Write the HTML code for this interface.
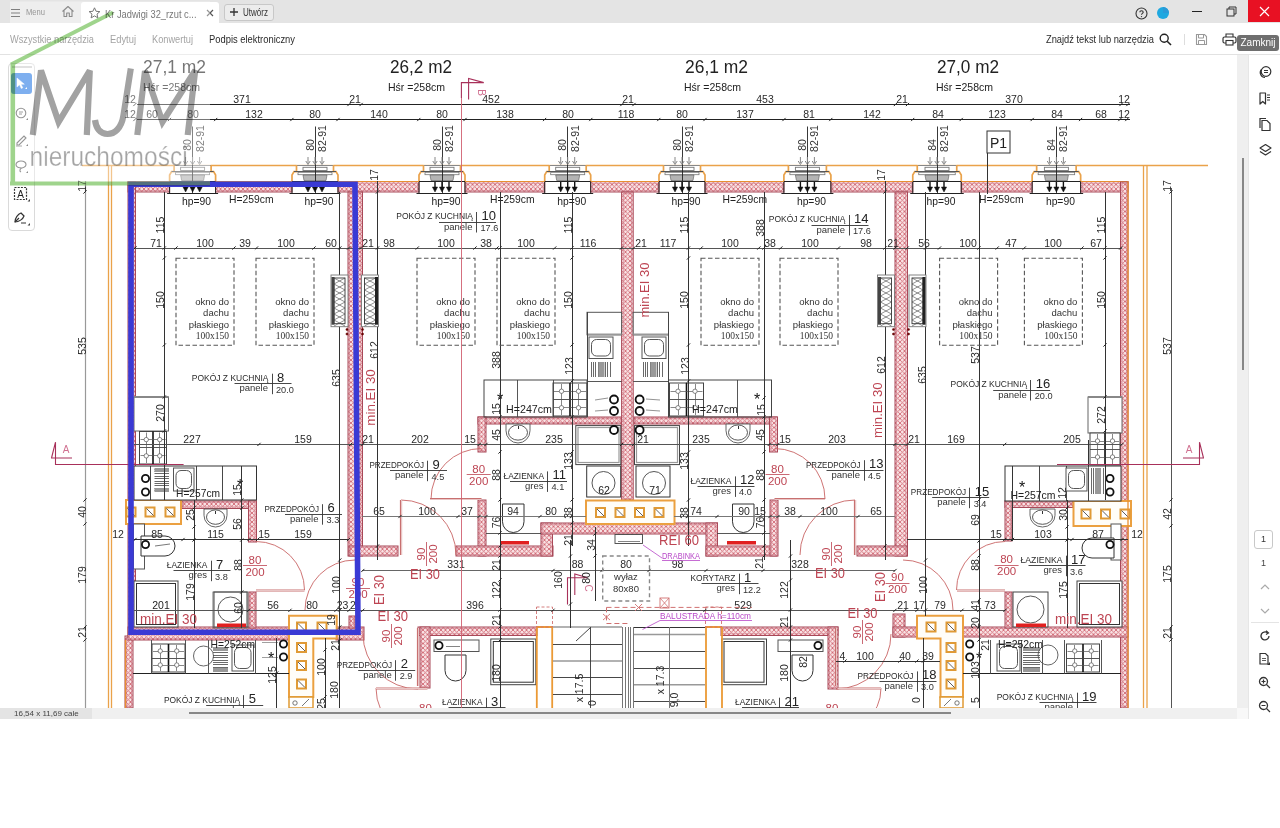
<!DOCTYPE html>
<html><head><meta charset="utf-8">
<style>
*{box-sizing:border-box;margin:0;padding:0}
html,body{width:1280px;height:828px;overflow:hidden;background:#fff;font-family:"Liberation Sans",sans-serif}
.abs{position:absolute}
#plan{position:absolute;left:0;top:0;width:1280px;height:828px}
#title{position:absolute;left:0;top:0;width:1280px;height:23px;background:#e4e4e4}
#toolbar{position:absolute;left:0;top:23px;width:1280px;height:32px;background:#fff;border-bottom:1px solid #e2e2e2}
.tb{position:absolute;top:11px;font-size:10.5px;color:#8a8a8a;white-space:nowrap}
#rpanel{position:absolute;left:1248px;top:55px;width:32px;height:664px;background:#fff;border-left:1px solid #e6e6e6}
#vscroll{position:absolute;left:1237px;top:55px;width:11px;height:653px;background:#efefef}
#status{position:absolute;left:0;top:708px;width:1237px;height:11px;background:#f0f0f0}
#corner{position:absolute;left:1237px;top:708px;width:11px;height:11px;background:#f8f8f8}
#lefttools{position:absolute;left:8px;top:63px;width:27px;height:168px;background:#fff;border:1px solid #dadada;border-radius:4px}
</style></head><body>
<svg id="plan" width="1280" height="828" viewBox="0 0 1280 828">
<defs>
<pattern id="hatch" width="4.5" height="4.5" patternUnits="userSpaceOnUse">
<rect width="4.5" height="4.5" fill="#f9e3e5"/>
<path d="M0 0L4.5 4.5M4.5 0L0 4.5" stroke="#cf6470" stroke-width="0.85"/>
</pattern>
</defs>
<text x="143" y="73" font-size="18" fill="#222" text-anchor="start" font-family="Liberation Sans" textLength="63" lengthAdjust="spacingAndGlyphs" >27,1 m2</text>
<text x="390" y="73" font-size="18" fill="#222" text-anchor="start" font-family="Liberation Sans" textLength="62" lengthAdjust="spacingAndGlyphs" >26,2 m2</text>
<text x="685" y="73" font-size="18" fill="#222" text-anchor="start" font-family="Liberation Sans" textLength="63" lengthAdjust="spacingAndGlyphs" >26,1 m2</text>
<text x="937" y="73" font-size="18" fill="#222" text-anchor="start" font-family="Liberation Sans" textLength="62" lengthAdjust="spacingAndGlyphs" >27,0 m2</text>
<text x="143" y="90.5" font-size="11.5" fill="#222" text-anchor="start" font-family="Liberation Sans" textLength="57" lengthAdjust="spacingAndGlyphs" >Hśr =258cm</text>
<text x="388" y="90.5" font-size="11.5" fill="#222" text-anchor="start" font-family="Liberation Sans" textLength="57" lengthAdjust="spacingAndGlyphs" >Hśr =258cm</text>
<text x="684" y="90.5" font-size="11.5" fill="#222" text-anchor="start" font-family="Liberation Sans" textLength="57" lengthAdjust="spacingAndGlyphs" >Hśr =258cm</text>
<text x="936" y="90.5" font-size="11.5" fill="#222" text-anchor="start" font-family="Liberation Sans" textLength="57" lengthAdjust="spacingAndGlyphs" >Hśr =258cm</text>
<line x1="137" y1="104.5" x2="1130" y2="104.5" stroke="#222" stroke-width="1" />
<line x1="137" y1="119.5" x2="1130" y2="119.5" stroke="#222" stroke-width="1" />
<line x1="133.3" y1="106.1" x2="136.5" y2="102.9" stroke="#222" stroke-width="1" />
<line x1="347.4" y1="106.1" x2="350.6" y2="102.9" stroke="#222" stroke-width="1" />
<line x1="359.5" y1="106.1" x2="362.7" y2="102.9" stroke="#222" stroke-width="1" />
<line x1="620.3" y1="106.1" x2="623.5" y2="102.9" stroke="#222" stroke-width="1" />
<line x1="632.4" y1="106.1" x2="635.6" y2="102.9" stroke="#222" stroke-width="1" />
<line x1="893.8" y1="106.1" x2="897.0" y2="102.9" stroke="#222" stroke-width="1" />
<line x1="905.9" y1="106.1" x2="909.1" y2="102.9" stroke="#222" stroke-width="1" />
<line x1="1119.4" y1="106.1" x2="1122.6" y2="102.9" stroke="#222" stroke-width="1" />
<line x1="1126.3" y1="106.1" x2="1129.5" y2="102.9" stroke="#222" stroke-width="1" />
<text x="130" y="103" font-size="10.5" fill="#2a2a2a" text-anchor="middle" font-family="Liberation Sans" >12</text>
<text x="242" y="103" font-size="10.5" fill="#2a2a2a" text-anchor="middle" font-family="Liberation Sans" >371</text>
<text x="355" y="103" font-size="10.5" fill="#2a2a2a" text-anchor="middle" font-family="Liberation Sans" >21</text>
<text x="491" y="103" font-size="10.5" fill="#2a2a2a" text-anchor="middle" font-family="Liberation Sans" >452</text>
<text x="628" y="103" font-size="10.5" fill="#2a2a2a" text-anchor="middle" font-family="Liberation Sans" >21</text>
<text x="765" y="103" font-size="10.5" fill="#2a2a2a" text-anchor="middle" font-family="Liberation Sans" >453</text>
<text x="902" y="103" font-size="10.5" fill="#2a2a2a" text-anchor="middle" font-family="Liberation Sans" >21</text>
<text x="1014" y="103" font-size="10.5" fill="#2a2a2a" text-anchor="middle" font-family="Liberation Sans" >370</text>
<text x="1124" y="103" font-size="10.5" fill="#2a2a2a" text-anchor="middle" font-family="Liberation Sans" >12</text>
<line x1="133.3" y1="121.1" x2="136.5" y2="117.9" stroke="#222" stroke-width="1" />
<line x1="167.9" y1="121.1" x2="171.1" y2="117.9" stroke="#222" stroke-width="1" />
<line x1="214.1" y1="121.1" x2="217.3" y2="117.9" stroke="#222" stroke-width="1" />
<line x1="290.3" y1="121.1" x2="293.5" y2="117.9" stroke="#222" stroke-width="1" />
<line x1="336.4" y1="121.1" x2="339.6" y2="117.9" stroke="#222" stroke-width="1" />
<line x1="417.2" y1="121.1" x2="420.4" y2="117.9" stroke="#222" stroke-width="1" />
<line x1="463.4" y1="121.1" x2="466.6" y2="117.9" stroke="#222" stroke-width="1" />
<line x1="543.0" y1="121.1" x2="546.2" y2="117.9" stroke="#222" stroke-width="1" />
<line x1="589.2" y1="121.1" x2="592.4" y2="117.9" stroke="#222" stroke-width="1" />
<line x1="657.2" y1="121.1" x2="660.4" y2="117.9" stroke="#222" stroke-width="1" />
<line x1="703.4" y1="121.1" x2="706.6" y2="117.9" stroke="#222" stroke-width="1" />
<line x1="782.4" y1="121.1" x2="785.6" y2="117.9" stroke="#222" stroke-width="1" />
<line x1="829.2" y1="121.1" x2="832.4" y2="117.9" stroke="#222" stroke-width="1" />
<line x1="911.1" y1="121.1" x2="914.3" y2="117.9" stroke="#222" stroke-width="1" />
<line x1="959.6" y1="121.1" x2="962.8" y2="117.9" stroke="#222" stroke-width="1" />
<line x1="1030.6" y1="121.1" x2="1033.8" y2="117.9" stroke="#222" stroke-width="1" />
<line x1="1079.0" y1="121.1" x2="1082.2" y2="117.9" stroke="#222" stroke-width="1" />
<line x1="1118.3" y1="121.1" x2="1121.5" y2="117.9" stroke="#222" stroke-width="1" />
<line x1="1125.2" y1="121.1" x2="1128.4" y2="117.9" stroke="#222" stroke-width="1" />
<text x="130" y="118" font-size="10.5" fill="#2a2a2a" text-anchor="middle" font-family="Liberation Sans" >12</text>
<text x="152" y="118" font-size="10.5" fill="#2a2a2a" text-anchor="middle" font-family="Liberation Sans" >60</text>
<text x="193" y="118" font-size="10.5" fill="#2a2a2a" text-anchor="middle" font-family="Liberation Sans" >80</text>
<text x="254" y="118" font-size="10.5" fill="#2a2a2a" text-anchor="middle" font-family="Liberation Sans" >132</text>
<text x="315" y="118" font-size="10.5" fill="#2a2a2a" text-anchor="middle" font-family="Liberation Sans" >80</text>
<text x="379" y="118" font-size="10.5" fill="#2a2a2a" text-anchor="middle" font-family="Liberation Sans" >140</text>
<text x="442" y="118" font-size="10.5" fill="#2a2a2a" text-anchor="middle" font-family="Liberation Sans" >80</text>
<text x="505" y="118" font-size="10.5" fill="#2a2a2a" text-anchor="middle" font-family="Liberation Sans" >138</text>
<text x="568" y="118" font-size="10.5" fill="#2a2a2a" text-anchor="middle" font-family="Liberation Sans" >80</text>
<text x="626" y="118" font-size="10.5" fill="#2a2a2a" text-anchor="middle" font-family="Liberation Sans" >118</text>
<text x="682" y="118" font-size="10.5" fill="#2a2a2a" text-anchor="middle" font-family="Liberation Sans" >80</text>
<text x="745" y="118" font-size="10.5" fill="#2a2a2a" text-anchor="middle" font-family="Liberation Sans" >137</text>
<text x="809" y="118" font-size="10.5" fill="#2a2a2a" text-anchor="middle" font-family="Liberation Sans" >81</text>
<text x="872" y="118" font-size="10.5" fill="#2a2a2a" text-anchor="middle" font-family="Liberation Sans" >142</text>
<text x="938" y="118" font-size="10.5" fill="#2a2a2a" text-anchor="middle" font-family="Liberation Sans" >84</text>
<text x="997" y="118" font-size="10.5" fill="#2a2a2a" text-anchor="middle" font-family="Liberation Sans" >123</text>
<text x="1057" y="118" font-size="10.5" fill="#2a2a2a" text-anchor="middle" font-family="Liberation Sans" >84</text>
<text x="1101" y="118" font-size="10.5" fill="#2a2a2a" text-anchor="middle" font-family="Liberation Sans" >68</text>
<text x="1124" y="118" font-size="10.5" fill="#2a2a2a" text-anchor="middle" font-family="Liberation Sans" >12</text>
<line x1="82" y1="165.5" x2="1208" y2="165.5" stroke="#eaa24a" stroke-width="1.6" />
<line x1="108.5" y1="165" x2="108.5" y2="708" stroke="#eaa24a" stroke-width="1.3" />
<line x1="111.5" y1="165" x2="111.5" y2="708" stroke="#eaa24a" stroke-width="1.3" />
<line x1="1143.5" y1="165" x2="1143.5" y2="708" stroke="#eaa24a" stroke-width="1.3" />
<line x1="1147" y1="165" x2="1147" y2="708" stroke="#eaa24a" stroke-width="1.3" />
<line x1="85.5" y1="181" x2="85.5" y2="708" stroke="#999" stroke-width="1.2" />
<line x1="1171.5" y1="188" x2="1171.5" y2="708" stroke="#555" stroke-width="1" />
<line x1="83.4" y1="193.6" x2="86.6" y2="190.4" stroke="#222" stroke-width="1" />
<line x1="83.4" y1="501.6" x2="86.6" y2="498.4" stroke="#222" stroke-width="1" />
<line x1="83.4" y1="525.6" x2="86.6" y2="522.4" stroke="#222" stroke-width="1" />
<line x1="83.4" y1="628.6" x2="86.6" y2="625.4" stroke="#222" stroke-width="1" />
<line x1="83.4" y1="641.6" x2="86.6" y2="638.4" stroke="#222" stroke-width="1" />
<line x1="1169.4" y1="193.6" x2="1172.6" y2="190.4" stroke="#222" stroke-width="1" />
<line x1="1169.4" y1="501.6" x2="1172.6" y2="498.4" stroke="#222" stroke-width="1" />
<line x1="1169.4" y1="527.6" x2="1172.6" y2="524.4" stroke="#222" stroke-width="1" />
<line x1="1169.4" y1="628.6" x2="1172.6" y2="625.4" stroke="#222" stroke-width="1" />
<line x1="1169.4" y1="641.6" x2="1172.6" y2="638.4" stroke="#222" stroke-width="1" />
<text x="85.5" y="186" font-size="10.5" fill="#2a2a2a" text-anchor="middle" font-family="Liberation Sans" transform="rotate(-90 85.5 186)" >17</text>
<text x="85.5" y="346" font-size="10.5" fill="#2a2a2a" text-anchor="middle" font-family="Liberation Sans" transform="rotate(-90 85.5 346)" >535</text>
<text x="85.5" y="512" font-size="10.5" fill="#2a2a2a" text-anchor="middle" font-family="Liberation Sans" transform="rotate(-90 85.5 512)" >40</text>
<text x="85.5" y="575" font-size="10.5" fill="#2a2a2a" text-anchor="middle" font-family="Liberation Sans" transform="rotate(-90 85.5 575)" >179</text>
<text x="85.5" y="632" font-size="10.5" fill="#2a2a2a" text-anchor="middle" font-family="Liberation Sans" transform="rotate(-90 85.5 632)" >21</text>
<text x="1171" y="186" font-size="10.5" fill="#2a2a2a" text-anchor="middle" font-family="Liberation Sans" transform="rotate(-90 1171 186)" >17</text>
<text x="1171" y="346" font-size="10.5" fill="#2a2a2a" text-anchor="middle" font-family="Liberation Sans" transform="rotate(-90 1171 346)" >537</text>
<text x="1171" y="514" font-size="10.5" fill="#2a2a2a" text-anchor="middle" font-family="Liberation Sans" transform="rotate(-90 1171 514)" >42</text>
<text x="1171" y="574" font-size="10.5" fill="#2a2a2a" text-anchor="middle" font-family="Liberation Sans" transform="rotate(-90 1171 574)" >175</text>
<text x="1171" y="633" font-size="10.5" fill="#2a2a2a" text-anchor="middle" font-family="Liberation Sans" transform="rotate(-90 1171 633)" >21</text>
<rect x="128" y="181.5" width="41.6" height="10.5" fill="url(#hatch)" stroke="#a84858" stroke-width="1"/>
<rect x="129.6" y="183.1" width="38.4" height="7.3" fill="none" stroke="#c87080" stroke-width="0.5"/>
<rect x="215.6" y="181.5" width="76.4" height="10.5" fill="url(#hatch)" stroke="#a84858" stroke-width="1"/>
<rect x="217.2" y="183.1" width="73.2" height="7.3" fill="none" stroke="#c87080" stroke-width="0.5"/>
<rect x="338.0" y="181.5" width="81.0" height="10.5" fill="url(#hatch)" stroke="#a84858" stroke-width="1"/>
<rect x="339.6" y="183.1" width="77.8" height="7.3" fill="none" stroke="#c87080" stroke-width="0.5"/>
<rect x="465.0" y="181.5" width="79.7" height="10.5" fill="url(#hatch)" stroke="#a84858" stroke-width="1"/>
<rect x="466.6" y="183.1" width="76.5" height="7.3" fill="none" stroke="#c87080" stroke-width="0.5"/>
<rect x="590.7" y="181.5" width="68.3" height="10.5" fill="url(#hatch)" stroke="#a84858" stroke-width="1"/>
<rect x="592.3000000000001" y="183.1" width="65.1" height="7.3" fill="none" stroke="#c87080" stroke-width="0.5"/>
<rect x="705.0" y="181.5" width="78.9" height="10.5" fill="url(#hatch)" stroke="#a84858" stroke-width="1"/>
<rect x="706.6" y="183.1" width="75.7" height="7.3" fill="none" stroke="#c87080" stroke-width="0.5"/>
<rect x="830.9" y="181.5" width="81.9" height="10.5" fill="url(#hatch)" stroke="#a84858" stroke-width="1"/>
<rect x="832.5" y="183.1" width="78.7" height="7.3" fill="none" stroke="#c87080" stroke-width="0.5"/>
<rect x="961.25" y="181.5" width="70.9" height="10.5" fill="url(#hatch)" stroke="#a84858" stroke-width="1"/>
<rect x="962.85" y="183.1" width="67.7" height="7.3" fill="none" stroke="#c87080" stroke-width="0.5"/>
<rect x="1080.65" y="181.5" width="47.34999999999991" height="10.5" fill="url(#hatch)" stroke="#a84858" stroke-width="1"/>
<rect x="1082.25" y="183.1" width="44.149999999999906" height="7.3" fill="none" stroke="#c87080" stroke-width="0.5"/>
<line x1="128" y1="181.5" x2="1128" y2="181.5" stroke="#e89030" stroke-width="1.2" />
<rect x="174.1" y="164.5" width="37" height="17" stroke="none" fill="#fff" stroke-width="0" />
<line x1="174.1" y1="165.5" x2="211.1" y2="165.5" stroke="#888" stroke-width="1" />
<path d="M174.1 165.3V171.6H171.6L169.6 175V181.5" stroke="#eaa24a" stroke-width="1.7" fill="none" />
<path d="M211.1 165.3V171.6H213.6L215.6 175V181.5" stroke="#eaa24a" stroke-width="1.7" fill="none" />
<rect x="180.6" y="167.3" width="24" height="3.2" stroke="#777" fill="#fff" stroke-width="0.9" />
<line x1="171.6" y1="171.5" x2="213.6" y2="171.5" stroke="#555" stroke-width="1" />
<rect x="175.6" y="172.3" width="34" height="2.4" stroke="#777" fill="#fff" stroke-width="0.8" />
<path d="M180.6 175H204.6L203.6 180.5H181.6Z" stroke="#555" stroke-width="0.6" fill="#b4b4b4" />
<line x1="169.6" y1="181.5" x2="215.6" y2="181.5" stroke="#222" stroke-width="1" />
<path d="M169.6 182V193.5M215.6 182V193.5M167.1 193.5H218.1" stroke="#222" stroke-width="1" fill="none" />
<line x1="192.5" y1="126.5" x2="192.5" y2="194" stroke="#222" stroke-width="0.9" />
<path d="M185.6 157V163M183.4 161L185.6 164.5L187.79999999999998 161" stroke="#888" stroke-width="1" fill="none" />
<line x1="185.6" y1="182" x2="185.6" y2="188" stroke="#111" stroke-width="1.4" />
<path d="M183.0 187L185.6 192L188.2 187Z" stroke="#111" stroke-width="0.5" fill="#111" />
<path d="M192.6 157V163M190.4 161L192.6 164.5L194.79999999999998 161" stroke="#888" stroke-width="1" fill="none" />
<line x1="192.6" y1="182" x2="192.6" y2="188" stroke="#111" stroke-width="1.4" />
<path d="M190.0 187L192.6 192L195.2 187Z" stroke="#111" stroke-width="0.5" fill="#111" />
<path d="M199.6 157V163M197.4 161L199.6 164.5L201.79999999999998 161" stroke="#888" stroke-width="1" fill="none" />
<line x1="199.6" y1="182" x2="199.6" y2="188" stroke="#111" stroke-width="1.4" />
<path d="M197.0 187L199.6 192L202.2 187Z" stroke="#111" stroke-width="0.5" fill="#111" />
<text x="191.1" y="145" font-size="10.5" fill="#333" text-anchor="middle" font-family="Liberation Sans" transform="rotate(-90 191.1 145)" >80</text>
<text x="203.6" y="138.5" font-size="10.5" fill="#333" text-anchor="middle" font-family="Liberation Sans" transform="rotate(-90 203.6 138.5)" >82-91</text>
<text x="196.6" y="204.5" font-size="11" fill="#222" text-anchor="middle" font-family="Liberation Sans" textLength="29" lengthAdjust="spacingAndGlyphs" >hp=90</text>
<rect x="296.5" y="164.5" width="37" height="17" stroke="none" fill="#fff" stroke-width="0" />
<line x1="296.5" y1="165.5" x2="333.5" y2="165.5" stroke="#888" stroke-width="1" />
<path d="M296.5 165.3V171.6H294.0L292.0 175V181.5" stroke="#eaa24a" stroke-width="1.7" fill="none" />
<path d="M333.5 165.3V171.6H336.0L338.0 175V181.5" stroke="#eaa24a" stroke-width="1.7" fill="none" />
<rect x="303" y="167.3" width="24" height="3.2" stroke="#777" fill="#fff" stroke-width="0.9" />
<line x1="294.0" y1="171.5" x2="336.0" y2="171.5" stroke="#555" stroke-width="1" />
<rect x="298.0" y="172.3" width="34" height="2.4" stroke="#777" fill="#fff" stroke-width="0.8" />
<path d="M303 175H327L326 180.5H304Z" stroke="#555" stroke-width="0.6" fill="#b4b4b4" />
<line x1="292.0" y1="181.5" x2="338.0" y2="181.5" stroke="#222" stroke-width="1" />
<path d="M292.0 182V193.5M338.0 182V193.5M289.5 193.5H340.5" stroke="#222" stroke-width="1" fill="none" />
<line x1="315.5" y1="126.5" x2="315.5" y2="194" stroke="#222" stroke-width="0.9" />
<path d="M308 157V163M305.8 161L308 164.5L310.2 161" stroke="#888" stroke-width="1" fill="none" />
<line x1="308" y1="182" x2="308" y2="188" stroke="#111" stroke-width="1.4" />
<path d="M305.4 187L308 192L310.6 187Z" stroke="#111" stroke-width="0.5" fill="#111" />
<path d="M315 157V163M312.8 161L315 164.5L317.2 161" stroke="#888" stroke-width="1" fill="none" />
<line x1="315" y1="182" x2="315" y2="188" stroke="#111" stroke-width="1.4" />
<path d="M312.4 187L315 192L317.6 187Z" stroke="#111" stroke-width="0.5" fill="#111" />
<path d="M322 157V163M319.8 161L322 164.5L324.2 161" stroke="#888" stroke-width="1" fill="none" />
<line x1="322" y1="182" x2="322" y2="188" stroke="#111" stroke-width="1.4" />
<path d="M319.4 187L322 192L324.6 187Z" stroke="#111" stroke-width="0.5" fill="#111" />
<text x="313.5" y="145" font-size="10.5" fill="#333" text-anchor="middle" font-family="Liberation Sans" transform="rotate(-90 313.5 145)" >80</text>
<text x="326" y="138.5" font-size="10.5" fill="#333" text-anchor="middle" font-family="Liberation Sans" transform="rotate(-90 326 138.5)" >82-91</text>
<text x="319" y="204.5" font-size="11" fill="#222" text-anchor="middle" font-family="Liberation Sans" textLength="29" lengthAdjust="spacingAndGlyphs" >hp=90</text>
<rect x="423.5" y="164.5" width="37" height="17" stroke="none" fill="#fff" stroke-width="0" />
<line x1="423.5" y1="165.5" x2="460.5" y2="165.5" stroke="#888" stroke-width="1" />
<path d="M423.5 165.3V171.6H421.0L419.0 175V181.5" stroke="#eaa24a" stroke-width="1.7" fill="none" />
<path d="M460.5 165.3V171.6H463.0L465.0 175V181.5" stroke="#eaa24a" stroke-width="1.7" fill="none" />
<rect x="430" y="167.3" width="24" height="3.2" stroke="#777" fill="#fff" stroke-width="0.9" />
<line x1="421.0" y1="171.5" x2="463.0" y2="171.5" stroke="#555" stroke-width="1" />
<rect x="425.0" y="172.3" width="34" height="2.4" stroke="#777" fill="#fff" stroke-width="0.8" />
<path d="M430 175H454L453 180.5H431Z" stroke="#555" stroke-width="0.6" fill="#b4b4b4" />
<line x1="419.0" y1="181.5" x2="465.0" y2="181.5" stroke="#222" stroke-width="1" />
<path d="M419.0 182V193.5M465.0 182V193.5M416.5 193.5H467.5" stroke="#222" stroke-width="1" fill="none" />
<line x1="442.5" y1="126.5" x2="442.5" y2="194" stroke="#222" stroke-width="0.9" />
<path d="M435 157V163M432.8 161L435 164.5L437.2 161" stroke="#888" stroke-width="1" fill="none" />
<line x1="435" y1="182" x2="435" y2="188" stroke="#111" stroke-width="1.4" />
<path d="M432.4 187L435 192L437.6 187Z" stroke="#111" stroke-width="0.5" fill="#111" />
<path d="M442 157V163M439.8 161L442 164.5L444.2 161" stroke="#888" stroke-width="1" fill="none" />
<line x1="442" y1="182" x2="442" y2="188" stroke="#111" stroke-width="1.4" />
<path d="M439.4 187L442 192L444.6 187Z" stroke="#111" stroke-width="0.5" fill="#111" />
<path d="M449 157V163M446.8 161L449 164.5L451.2 161" stroke="#888" stroke-width="1" fill="none" />
<line x1="449" y1="182" x2="449" y2="188" stroke="#111" stroke-width="1.4" />
<path d="M446.4 187L449 192L451.6 187Z" stroke="#111" stroke-width="0.5" fill="#111" />
<text x="440.5" y="145" font-size="10.5" fill="#333" text-anchor="middle" font-family="Liberation Sans" transform="rotate(-90 440.5 145)" >80</text>
<text x="453" y="138.5" font-size="10.5" fill="#333" text-anchor="middle" font-family="Liberation Sans" transform="rotate(-90 453 138.5)" >82-91</text>
<text x="446" y="204.5" font-size="11" fill="#222" text-anchor="middle" font-family="Liberation Sans" textLength="29" lengthAdjust="spacingAndGlyphs" >hp=90</text>
<rect x="549.2" y="164.5" width="37" height="17" stroke="none" fill="#fff" stroke-width="0" />
<line x1="549.2" y1="165.5" x2="586.2" y2="165.5" stroke="#888" stroke-width="1" />
<path d="M549.2 165.3V171.6H546.7L544.7 175V181.5" stroke="#eaa24a" stroke-width="1.7" fill="none" />
<path d="M586.2 165.3V171.6H588.7L590.7 175V181.5" stroke="#eaa24a" stroke-width="1.7" fill="none" />
<rect x="555.7" y="167.3" width="24" height="3.2" stroke="#777" fill="#fff" stroke-width="0.9" />
<line x1="546.7" y1="171.5" x2="588.7" y2="171.5" stroke="#555" stroke-width="1" />
<rect x="550.7" y="172.3" width="34" height="2.4" stroke="#777" fill="#fff" stroke-width="0.8" />
<path d="M555.7 175H579.7L578.7 180.5H556.7Z" stroke="#555" stroke-width="0.6" fill="#b4b4b4" />
<line x1="544.7" y1="181.5" x2="590.7" y2="181.5" stroke="#222" stroke-width="1" />
<path d="M544.7 182V193.5M590.7 182V193.5M542.2 193.5H593.2" stroke="#222" stroke-width="1" fill="none" />
<line x1="567.5" y1="126.5" x2="567.5" y2="194" stroke="#222" stroke-width="0.9" />
<path d="M560.7 157V163M558.5 161L560.7 164.5L562.9000000000001 161" stroke="#888" stroke-width="1" fill="none" />
<line x1="560.7" y1="182" x2="560.7" y2="188" stroke="#111" stroke-width="1.4" />
<path d="M558.1 187L560.7 192L563.3000000000001 187Z" stroke="#111" stroke-width="0.5" fill="#111" />
<path d="M567.7 157V163M565.5 161L567.7 164.5L569.9000000000001 161" stroke="#888" stroke-width="1" fill="none" />
<line x1="567.7" y1="182" x2="567.7" y2="188" stroke="#111" stroke-width="1.4" />
<path d="M565.1 187L567.7 192L570.3000000000001 187Z" stroke="#111" stroke-width="0.5" fill="#111" />
<path d="M574.7 157V163M572.5 161L574.7 164.5L576.9000000000001 161" stroke="#888" stroke-width="1" fill="none" />
<line x1="574.7" y1="182" x2="574.7" y2="188" stroke="#111" stroke-width="1.4" />
<path d="M572.1 187L574.7 192L577.3000000000001 187Z" stroke="#111" stroke-width="0.5" fill="#111" />
<text x="566.2" y="145" font-size="10.5" fill="#333" text-anchor="middle" font-family="Liberation Sans" transform="rotate(-90 566.2 145)" >80</text>
<text x="578.7" y="138.5" font-size="10.5" fill="#333" text-anchor="middle" font-family="Liberation Sans" transform="rotate(-90 578.7 138.5)" >82-91</text>
<text x="571.7" y="204.5" font-size="11" fill="#222" text-anchor="middle" font-family="Liberation Sans" textLength="29" lengthAdjust="spacingAndGlyphs" >hp=90</text>
<rect x="663.5" y="164.5" width="37" height="17" stroke="none" fill="#fff" stroke-width="0" />
<line x1="663.5" y1="165.5" x2="700.5" y2="165.5" stroke="#888" stroke-width="1" />
<path d="M663.5 165.3V171.6H661.0L659.0 175V181.5" stroke="#eaa24a" stroke-width="1.7" fill="none" />
<path d="M700.5 165.3V171.6H703.0L705.0 175V181.5" stroke="#eaa24a" stroke-width="1.7" fill="none" />
<rect x="670" y="167.3" width="24" height="3.2" stroke="#777" fill="#fff" stroke-width="0.9" />
<line x1="661.0" y1="171.5" x2="703.0" y2="171.5" stroke="#555" stroke-width="1" />
<rect x="665.0" y="172.3" width="34" height="2.4" stroke="#777" fill="#fff" stroke-width="0.8" />
<path d="M670 175H694L693 180.5H671Z" stroke="#555" stroke-width="0.6" fill="#b4b4b4" />
<line x1="659.0" y1="181.5" x2="705.0" y2="181.5" stroke="#222" stroke-width="1" />
<path d="M659.0 182V193.5M705.0 182V193.5M656.5 193.5H707.5" stroke="#222" stroke-width="1" fill="none" />
<line x1="682.5" y1="126.5" x2="682.5" y2="194" stroke="#222" stroke-width="0.9" />
<path d="M675 157V163M672.8 161L675 164.5L677.2 161" stroke="#888" stroke-width="1" fill="none" />
<line x1="675" y1="182" x2="675" y2="188" stroke="#111" stroke-width="1.4" />
<path d="M672.4 187L675 192L677.6 187Z" stroke="#111" stroke-width="0.5" fill="#111" />
<path d="M682 157V163M679.8 161L682 164.5L684.2 161" stroke="#888" stroke-width="1" fill="none" />
<line x1="682" y1="182" x2="682" y2="188" stroke="#111" stroke-width="1.4" />
<path d="M679.4 187L682 192L684.6 187Z" stroke="#111" stroke-width="0.5" fill="#111" />
<path d="M689 157V163M686.8 161L689 164.5L691.2 161" stroke="#888" stroke-width="1" fill="none" />
<line x1="689" y1="182" x2="689" y2="188" stroke="#111" stroke-width="1.4" />
<path d="M686.4 187L689 192L691.6 187Z" stroke="#111" stroke-width="0.5" fill="#111" />
<text x="680.5" y="145" font-size="10.5" fill="#333" text-anchor="middle" font-family="Liberation Sans" transform="rotate(-90 680.5 145)" >80</text>
<text x="693" y="138.5" font-size="10.5" fill="#333" text-anchor="middle" font-family="Liberation Sans" transform="rotate(-90 693 138.5)" >82-91</text>
<text x="686" y="204.5" font-size="11" fill="#222" text-anchor="middle" font-family="Liberation Sans" textLength="29" lengthAdjust="spacingAndGlyphs" >hp=90</text>
<rect x="788.4" y="164.5" width="38" height="17" stroke="none" fill="#fff" stroke-width="0" />
<line x1="788.4" y1="165.5" x2="826.4" y2="165.5" stroke="#888" stroke-width="1" />
<path d="M788.4 165.3V171.6H785.9L783.9 175V181.5" stroke="#eaa24a" stroke-width="1.7" fill="none" />
<path d="M826.4 165.3V171.6H828.9L830.9 175V181.5" stroke="#eaa24a" stroke-width="1.7" fill="none" />
<rect x="795.4" y="167.3" width="24" height="3.2" stroke="#777" fill="#fff" stroke-width="0.9" />
<line x1="785.9" y1="171.5" x2="828.9" y2="171.5" stroke="#555" stroke-width="1" />
<rect x="789.9" y="172.3" width="35" height="2.4" stroke="#777" fill="#fff" stroke-width="0.8" />
<path d="M795.4 175H819.4L818.4 180.5H796.4Z" stroke="#555" stroke-width="0.6" fill="#b4b4b4" />
<line x1="783.9" y1="181.5" x2="830.9" y2="181.5" stroke="#222" stroke-width="1" />
<path d="M783.9 182V193.5M830.9 182V193.5M781.4 193.5H833.4" stroke="#222" stroke-width="1" fill="none" />
<line x1="807.5" y1="126.5" x2="807.5" y2="194" stroke="#222" stroke-width="0.9" />
<path d="M800.4 157V163M798.1999999999999 161L800.4 164.5L802.6 161" stroke="#888" stroke-width="1" fill="none" />
<line x1="800.4" y1="182" x2="800.4" y2="188" stroke="#111" stroke-width="1.4" />
<path d="M797.8 187L800.4 192L803.0 187Z" stroke="#111" stroke-width="0.5" fill="#111" />
<path d="M807.4 157V163M805.1999999999999 161L807.4 164.5L809.6 161" stroke="#888" stroke-width="1" fill="none" />
<line x1="807.4" y1="182" x2="807.4" y2="188" stroke="#111" stroke-width="1.4" />
<path d="M804.8 187L807.4 192L810.0 187Z" stroke="#111" stroke-width="0.5" fill="#111" />
<path d="M814.4 157V163M812.1999999999999 161L814.4 164.5L816.6 161" stroke="#888" stroke-width="1" fill="none" />
<line x1="814.4" y1="182" x2="814.4" y2="188" stroke="#111" stroke-width="1.4" />
<path d="M811.8 187L814.4 192L817.0 187Z" stroke="#111" stroke-width="0.5" fill="#111" />
<text x="805.9" y="145" font-size="10.5" fill="#333" text-anchor="middle" font-family="Liberation Sans" transform="rotate(-90 805.9 145)" >80</text>
<text x="818.4" y="138.5" font-size="10.5" fill="#333" text-anchor="middle" font-family="Liberation Sans" transform="rotate(-90 818.4 138.5)" >82-91</text>
<text x="811.4" y="204.5" font-size="11" fill="#222" text-anchor="middle" font-family="Liberation Sans" textLength="29" lengthAdjust="spacingAndGlyphs" >hp=90</text>
<rect x="917.25" y="164.5" width="39.5" height="17" stroke="none" fill="#fff" stroke-width="0" />
<line x1="917.25" y1="165.5" x2="956.75" y2="165.5" stroke="#888" stroke-width="1" />
<path d="M917.25 165.3V171.6H914.75L912.75 175V181.5" stroke="#eaa24a" stroke-width="1.7" fill="none" />
<path d="M956.75 165.3V171.6H959.25L961.25 175V181.5" stroke="#eaa24a" stroke-width="1.7" fill="none" />
<rect x="925" y="167.3" width="24" height="3.2" stroke="#777" fill="#fff" stroke-width="0.9" />
<line x1="914.75" y1="171.5" x2="959.25" y2="171.5" stroke="#555" stroke-width="1" />
<rect x="918.75" y="172.3" width="36.5" height="2.4" stroke="#777" fill="#fff" stroke-width="0.8" />
<path d="M925 175H949L948 180.5H926Z" stroke="#555" stroke-width="0.6" fill="#b4b4b4" />
<line x1="912.75" y1="181.5" x2="961.25" y2="181.5" stroke="#222" stroke-width="1" />
<path d="M912.75 182V193.5M961.25 182V193.5M910.25 193.5H963.75" stroke="#222" stroke-width="1" fill="none" />
<line x1="937.5" y1="126.5" x2="937.5" y2="194" stroke="#222" stroke-width="0.9" />
<path d="M930 157V163M927.8 161L930 164.5L932.2 161" stroke="#888" stroke-width="1" fill="none" />
<line x1="930" y1="182" x2="930" y2="188" stroke="#111" stroke-width="1.4" />
<path d="M927.4 187L930 192L932.6 187Z" stroke="#111" stroke-width="0.5" fill="#111" />
<path d="M937 157V163M934.8 161L937 164.5L939.2 161" stroke="#888" stroke-width="1" fill="none" />
<line x1="937" y1="182" x2="937" y2="188" stroke="#111" stroke-width="1.4" />
<path d="M934.4 187L937 192L939.6 187Z" stroke="#111" stroke-width="0.5" fill="#111" />
<path d="M944 157V163M941.8 161L944 164.5L946.2 161" stroke="#888" stroke-width="1" fill="none" />
<line x1="944" y1="182" x2="944" y2="188" stroke="#111" stroke-width="1.4" />
<path d="M941.4 187L944 192L946.6 187Z" stroke="#111" stroke-width="0.5" fill="#111" />
<text x="935.5" y="145" font-size="10.5" fill="#333" text-anchor="middle" font-family="Liberation Sans" transform="rotate(-90 935.5 145)" >84</text>
<text x="948" y="138.5" font-size="10.5" fill="#333" text-anchor="middle" font-family="Liberation Sans" transform="rotate(-90 948 138.5)" >82-91</text>
<text x="941" y="204.5" font-size="11" fill="#222" text-anchor="middle" font-family="Liberation Sans" textLength="29" lengthAdjust="spacingAndGlyphs" >hp=90</text>
<rect x="1036.65" y="164.5" width="39.5" height="17" stroke="none" fill="#fff" stroke-width="0" />
<line x1="1036.65" y1="165.5" x2="1076.15" y2="165.5" stroke="#888" stroke-width="1" />
<path d="M1036.65 165.3V171.6H1034.15L1032.15 175V181.5" stroke="#eaa24a" stroke-width="1.7" fill="none" />
<path d="M1076.15 165.3V171.6H1078.65L1080.65 175V181.5" stroke="#eaa24a" stroke-width="1.7" fill="none" />
<rect x="1044.4" y="167.3" width="24" height="3.2" stroke="#777" fill="#fff" stroke-width="0.9" />
<line x1="1034.15" y1="171.5" x2="1078.65" y2="171.5" stroke="#555" stroke-width="1" />
<rect x="1038.15" y="172.3" width="36.5" height="2.4" stroke="#777" fill="#fff" stroke-width="0.8" />
<path d="M1044.4 175H1068.4L1067.4 180.5H1045.4Z" stroke="#555" stroke-width="0.6" fill="#b4b4b4" />
<line x1="1032.15" y1="181.5" x2="1080.65" y2="181.5" stroke="#222" stroke-width="1" />
<path d="M1032.15 182V193.5M1080.65 182V193.5M1029.65 193.5H1083.15" stroke="#222" stroke-width="1" fill="none" />
<line x1="1056.5" y1="126.5" x2="1056.5" y2="194" stroke="#222" stroke-width="0.9" />
<path d="M1049.4 157V163M1047.2 161L1049.4 164.5L1051.6000000000001 161" stroke="#888" stroke-width="1" fill="none" />
<line x1="1049.4" y1="182" x2="1049.4" y2="188" stroke="#111" stroke-width="1.4" />
<path d="M1046.8000000000002 187L1049.4 192L1052.0 187Z" stroke="#111" stroke-width="0.5" fill="#111" />
<path d="M1056.4 157V163M1054.2 161L1056.4 164.5L1058.6000000000001 161" stroke="#888" stroke-width="1" fill="none" />
<line x1="1056.4" y1="182" x2="1056.4" y2="188" stroke="#111" stroke-width="1.4" />
<path d="M1053.8000000000002 187L1056.4 192L1059.0 187Z" stroke="#111" stroke-width="0.5" fill="#111" />
<path d="M1063.4 157V163M1061.2 161L1063.4 164.5L1065.6000000000001 161" stroke="#888" stroke-width="1" fill="none" />
<line x1="1063.4" y1="182" x2="1063.4" y2="188" stroke="#111" stroke-width="1.4" />
<path d="M1060.8000000000002 187L1063.4 192L1066.0 187Z" stroke="#111" stroke-width="0.5" fill="#111" />
<text x="1054.9" y="145" font-size="10.5" fill="#333" text-anchor="middle" font-family="Liberation Sans" transform="rotate(-90 1054.9 145)" >84</text>
<text x="1067.4" y="138.5" font-size="10.5" fill="#333" text-anchor="middle" font-family="Liberation Sans" transform="rotate(-90 1067.4 138.5)" >82-91</text>
<text x="1060.4" y="204.5" font-size="11" fill="#222" text-anchor="middle" font-family="Liberation Sans" textLength="29" lengthAdjust="spacingAndGlyphs" >hp=90</text>
<text x="229" y="202.5" font-size="11" fill="#222" text-anchor="start" font-family="Liberation Sans" textLength="44.5" lengthAdjust="spacingAndGlyphs" >H=259cm</text>
<text x="490" y="202.5" font-size="11" fill="#222" text-anchor="start" font-family="Liberation Sans" textLength="44.5" lengthAdjust="spacingAndGlyphs" >H=259cm</text>
<text x="722.5" y="202.5" font-size="11" fill="#222" text-anchor="start" font-family="Liberation Sans" textLength="44.5" lengthAdjust="spacingAndGlyphs" >H=259cm</text>
<text x="979" y="202.5" font-size="11" fill="#222" text-anchor="start" font-family="Liberation Sans" textLength="44.5" lengthAdjust="spacingAndGlyphs" >H=259cm</text>
<rect x="987" y="131" width="23" height="22" stroke="#333" fill="#fff" stroke-width="1" />
<text x="998.5" y="148" font-size="14" fill="#222" text-anchor="middle" font-family="Liberation Sans" >P1</text>
<line x1="987.5" y1="153" x2="987.5" y2="194" stroke="#333" stroke-width="1" />
<rect x="348" y="192" width="14.5" height="364" fill="url(#hatch)" stroke="#a84858" stroke-width="1"/>
<rect x="349.6" y="193.6" width="11.3" height="360.8" fill="none" stroke="#c87080" stroke-width="0.5"/>
<rect x="182" y="501" width="74.5" height="7.5" fill="url(#hatch)" stroke="#a84858" stroke-width="1"/>
<rect x="183.6" y="502.6" width="71.3" height="4.3" fill="none" stroke="#c87080" stroke-width="0.5"/>
<rect x="248.5" y="501" width="8" height="41" fill="url(#hatch)" stroke="#a84858" stroke-width="1"/>
<rect x="250.1" y="502.6" width="4.8" height="37.8" fill="none" stroke="#c87080" stroke-width="0.5"/>
<rect x="478" y="417" width="144" height="7" fill="url(#hatch)" stroke="#a84858" stroke-width="1"/>
<rect x="479.6" y="418.6" width="140.8" height="3.8" fill="none" stroke="#c87080" stroke-width="0.5"/>
<rect x="478" y="417" width="8" height="35" fill="url(#hatch)" stroke="#a84858" stroke-width="1"/>
<rect x="479.6" y="418.6" width="4.8" height="31.8" fill="none" stroke="#c87080" stroke-width="0.5"/>
<rect x="478" y="500" width="8" height="56" fill="url(#hatch)" stroke="#a84858" stroke-width="1"/>
<rect x="479.6" y="501.6" width="4.8" height="52.8" fill="none" stroke="#c87080" stroke-width="0.5"/>
<rect x="456" y="546" width="97" height="10" fill="url(#hatch)" stroke="#a84858" stroke-width="1"/>
<rect x="457.6" y="547.6" width="93.8" height="6.8" fill="none" stroke="#c87080" stroke-width="0.5"/>
<rect x="541" y="523" width="11.5" height="33" fill="url(#hatch)" stroke="#a84858" stroke-width="1"/>
<rect x="542.6" y="524.6" width="8.3" height="29.8" fill="none" stroke="#c87080" stroke-width="0.5"/>
<rect x="541" y="523" width="176.5" height="11" fill="url(#hatch)" stroke="#a84858" stroke-width="1"/>
<rect x="542.6" y="524.6" width="173.3" height="7.8" fill="none" stroke="#c87080" stroke-width="0.5"/>
<rect x="706" y="523" width="11.5" height="33" fill="url(#hatch)" stroke="#a84858" stroke-width="1"/>
<rect x="707.6" y="524.6" width="8.3" height="29.8" fill="none" stroke="#c87080" stroke-width="0.5"/>
<rect x="706" y="546" width="71" height="10" fill="url(#hatch)" stroke="#a84858" stroke-width="1"/>
<rect x="707.6" y="547.6" width="67.8" height="6.8" fill="none" stroke="#c87080" stroke-width="0.5"/>
<rect x="770" y="500" width="8" height="56" fill="url(#hatch)" stroke="#a84858" stroke-width="1"/>
<rect x="771.6" y="501.6" width="4.8" height="52.8" fill="none" stroke="#c87080" stroke-width="0.5"/>
<rect x="634" y="417" width="143" height="7" fill="url(#hatch)" stroke="#a84858" stroke-width="1"/>
<rect x="635.6" y="418.6" width="139.8" height="3.8" fill="none" stroke="#c87080" stroke-width="0.5"/>
<rect x="769.5" y="417" width="8" height="35" fill="url(#hatch)" stroke="#a84858" stroke-width="1"/>
<rect x="771.1" y="418.6" width="4.8" height="31.8" fill="none" stroke="#c87080" stroke-width="0.5"/>
<rect x="621.6" y="192" width="11.6" height="308" fill="url(#hatch)" stroke="#a84858" stroke-width="1"/>
<rect x="623.2" y="193.6" width="8.399999999999999" height="304.8" fill="none" stroke="#c87080" stroke-width="0.5"/>
<rect x="349" y="546" width="49" height="10" fill="url(#hatch)" stroke="#a84858" stroke-width="1"/>
<rect x="350.6" y="547.6" width="45.8" height="6.8" fill="none" stroke="#c87080" stroke-width="0.5"/>
<rect x="895" y="192" width="12.5" height="364" fill="url(#hatch)" stroke="#a84858" stroke-width="1"/>
<rect x="896.6" y="193.6" width="9.3" height="360.8" fill="none" stroke="#c87080" stroke-width="0.5"/>
<rect x="857" y="546" width="50" height="10" fill="url(#hatch)" stroke="#a84858" stroke-width="1"/>
<rect x="858.6" y="547.6" width="46.8" height="6.8" fill="none" stroke="#c87080" stroke-width="0.5"/>
<rect x="1005" y="501" width="68" height="6.5" fill="url(#hatch)" stroke="#a84858" stroke-width="1"/>
<rect x="1006.6" y="502.6" width="64.8" height="3.3" fill="none" stroke="#c87080" stroke-width="0.5"/>
<rect x="1005" y="501" width="7" height="40" fill="url(#hatch)" stroke="#a84858" stroke-width="1"/>
<rect x="1006.6" y="502.6" width="3.8" height="36.8" fill="none" stroke="#c87080" stroke-width="0.5"/>
<rect x="128" y="182" width="7.5" height="454" fill="url(#hatch)" stroke="#a84858" stroke-width="1"/>
<rect x="129.6" y="183.6" width="4.3" height="450.8" fill="none" stroke="#c87080" stroke-width="0.5"/>
<rect x="1120.5" y="182" width="7.5" height="526" fill="url(#hatch)" stroke="#a84858" stroke-width="1"/>
<rect x="1122.1" y="183.6" width="4.3" height="522.8" fill="none" stroke="#c87080" stroke-width="0.5"/>
<rect x="125" y="636" width="8" height="72" fill="url(#hatch)" stroke="#a84858" stroke-width="1"/>
<rect x="126.6" y="637.6" width="4.8" height="68.8" fill="none" stroke="#c87080" stroke-width="0.5"/>
<rect x="128" y="627" width="161" height="13" fill="url(#hatch)" stroke="#a84858" stroke-width="1"/>
<rect x="129.6" y="628.6" width="157.8" height="9.8" fill="none" stroke="#c87080" stroke-width="0.5"/>
<rect x="336" y="627" width="28" height="13" fill="url(#hatch)" stroke="#a84858" stroke-width="1"/>
<rect x="337.6" y="628.6" width="24.8" height="9.8" fill="none" stroke="#c87080" stroke-width="0.5"/>
<rect x="249" y="592" width="7" height="36" fill="url(#hatch)" stroke="#a84858" stroke-width="1"/>
<rect x="250.6" y="593.6" width="3.8" height="32.8" fill="none" stroke="#c87080" stroke-width="0.5"/>
<rect x="349" y="616" width="6" height="12" fill="url(#hatch)" stroke="#a84858" stroke-width="1"/>
<rect x="350.6" y="617.6" width="2.8" height="8.8" fill="none" stroke="#c87080" stroke-width="0.5"/>
<rect x="418" y="627" width="119" height="8.5" fill="url(#hatch)" stroke="#a84858" stroke-width="1"/>
<rect x="419.6" y="628.6" width="115.8" height="5.3" fill="none" stroke="#c87080" stroke-width="0.5"/>
<rect x="420" y="627" width="10" height="61" fill="url(#hatch)" stroke="#a84858" stroke-width="1"/>
<rect x="421.6" y="628.6" width="6.8" height="57.8" fill="none" stroke="#c87080" stroke-width="0.5"/>
<rect x="721" y="627" width="117" height="8.5" fill="url(#hatch)" stroke="#a84858" stroke-width="1"/>
<rect x="722.6" y="628.6" width="113.8" height="5.3" fill="none" stroke="#c87080" stroke-width="0.5"/>
<rect x="828" y="627" width="10" height="62" fill="url(#hatch)" stroke="#a84858" stroke-width="1"/>
<rect x="829.6" y="628.6" width="6.8" height="58.8" fill="none" stroke="#c87080" stroke-width="0.5"/>
<rect x="962" y="627" width="166" height="10" fill="url(#hatch)" stroke="#a84858" stroke-width="1"/>
<rect x="963.6" y="628.6" width="162.8" height="6.8" fill="none" stroke="#c87080" stroke-width="0.5"/>
<rect x="1005" y="592" width="7" height="36" fill="url(#hatch)" stroke="#a84858" stroke-width="1"/>
<rect x="1006.6" y="593.6" width="3.8" height="32.8" fill="none" stroke="#c87080" stroke-width="0.5"/>
<rect x="893" y="614" width="12" height="23" fill="url(#hatch)" stroke="#a84858" stroke-width="1"/>
<rect x="894.6" y="615.6" width="8.8" height="19.8" fill="none" stroke="#c87080" stroke-width="0.5"/>
<rect x="893" y="627" width="24" height="10" fill="url(#hatch)" stroke="#a84858" stroke-width="1"/>
<rect x="894.6" y="628.6" width="20.8" height="6.8" fill="none" stroke="#c87080" stroke-width="0.5"/>
<rect x="126" y="500" width="55" height="24" stroke="#eba040" fill="#fffdf8" stroke-width="2" />
<rect x="126.5" y="507.5" width="9" height="9" stroke="#e09a35" fill="#fff" stroke-width="2" />
<line x1="127.5" y1="508.5" x2="134.5" y2="515.5" stroke="#333" stroke-width="0.8" />
<rect x="145.5" y="507.5" width="9" height="9" stroke="#e09a35" fill="#fff" stroke-width="2" />
<line x1="146.5" y1="508.5" x2="153.5" y2="515.5" stroke="#333" stroke-width="0.8" />
<rect x="165.5" y="507.5" width="9" height="9" stroke="#e09a35" fill="#fff" stroke-width="2" />
<line x1="166.5" y1="508.5" x2="173.5" y2="515.5" stroke="#333" stroke-width="0.8" />
<rect x="586" y="500.5" width="88.5" height="23.5" stroke="#eba040" fill="#fffdf8" stroke-width="2" />
<rect x="596.0" y="508.0" width="9" height="9" stroke="#e09a35" fill="#fff" stroke-width="2" />
<line x1="597.0" y1="509.0" x2="604.0" y2="516.0" stroke="#333" stroke-width="0.8" />
<rect x="615.5" y="508.0" width="9" height="9" stroke="#e09a35" fill="#fff" stroke-width="2" />
<line x1="616.5" y1="509.0" x2="623.5" y2="516.0" stroke="#333" stroke-width="0.8" />
<rect x="635.0" y="508.0" width="9" height="9" stroke="#e09a35" fill="#fff" stroke-width="2" />
<line x1="636.0" y1="509.0" x2="643.0" y2="516.0" stroke="#333" stroke-width="0.8" />
<rect x="654.5" y="508.0" width="9" height="9" stroke="#e09a35" fill="#fff" stroke-width="2" />
<line x1="655.5" y1="509.0" x2="662.5" y2="516.0" stroke="#333" stroke-width="0.8" />
<rect x="1073.5" y="501" width="57.5" height="25" stroke="#eba040" fill="#fffdf8" stroke-width="2" />
<rect x="1081.5" y="509.5" width="9" height="9" stroke="#e09a35" fill="#fff" stroke-width="2" />
<line x1="1082.5" y1="510.5" x2="1089.5" y2="517.5" stroke="#333" stroke-width="0.8" />
<rect x="1101.0" y="509.5" width="9" height="9" stroke="#e09a35" fill="#fff" stroke-width="2" />
<line x1="1102.0" y1="510.5" x2="1109.0" y2="517.5" stroke="#333" stroke-width="0.8" />
<rect x="1120.5" y="509.5" width="9" height="9" stroke="#e09a35" fill="#fff" stroke-width="2" />
<line x1="1121.5" y1="510.5" x2="1128.5" y2="517.5" stroke="#333" stroke-width="0.8" />
<path d="M289 615.7H336.7V638.5H313.3V697H289Z" stroke="#eba040" stroke-width="2" fill="#fffdf8" />
<rect x="297.0" y="622.5" width="9" height="9" stroke="#e09a35" fill="#fff" stroke-width="2" />
<line x1="298.0" y1="623.5" x2="305.0" y2="630.5" stroke="#333" stroke-width="0.8" />
<rect x="317.5" y="622.5" width="9" height="9" stroke="#e09a35" fill="#fff" stroke-width="2" />
<line x1="318.5" y1="623.5" x2="325.5" y2="630.5" stroke="#333" stroke-width="0.8" />
<rect x="297.0" y="643.0" width="9" height="9" stroke="#e09a35" fill="#fff" stroke-width="2" />
<line x1="298.0" y1="644.0" x2="305.0" y2="651.0" stroke="#333" stroke-width="0.8" />
<rect x="297.0" y="661.0" width="9" height="9" stroke="#e09a35" fill="#fff" stroke-width="2" />
<line x1="298.0" y1="662.0" x2="305.0" y2="669.0" stroke="#333" stroke-width="0.8" />
<rect x="297.0" y="679.5" width="9" height="9" stroke="#e09a35" fill="#fff" stroke-width="2" />
<line x1="298.0" y1="680.5" x2="305.0" y2="687.5" stroke="#333" stroke-width="0.8" />
<path d="M963 615.7H917V638.5H940.5V697H963Z" stroke="#eba040" stroke-width="2" fill="#fffdf8" />
<rect x="946.5" y="622.5" width="9" height="9" stroke="#e09a35" fill="#fff" stroke-width="2" />
<line x1="947.5" y1="623.5" x2="954.5" y2="630.5" stroke="#333" stroke-width="0.8" />
<rect x="926.5" y="622.5" width="9" height="9" stroke="#e09a35" fill="#fff" stroke-width="2" />
<line x1="927.5" y1="623.5" x2="934.5" y2="630.5" stroke="#333" stroke-width="0.8" />
<rect x="946.5" y="643.0" width="9" height="9" stroke="#e09a35" fill="#fff" stroke-width="2" />
<line x1="947.5" y1="644.0" x2="954.5" y2="651.0" stroke="#333" stroke-width="0.8" />
<rect x="946.5" y="661.0" width="9" height="9" stroke="#e09a35" fill="#fff" stroke-width="2" />
<line x1="947.5" y1="662.0" x2="954.5" y2="669.0" stroke="#333" stroke-width="0.8" />
<rect x="946.5" y="679.5" width="9" height="9" stroke="#e09a35" fill="#fff" stroke-width="2" />
<line x1="947.5" y1="680.5" x2="954.5" y2="687.5" stroke="#333" stroke-width="0.8" />
<line x1="1128" y1="181.5" x2="1128" y2="708" stroke="#e89030" stroke-width="1.3" />
<line x1="125.5" y1="640" x2="125.5" y2="708" stroke="#e89030" stroke-width="1.2" />
<rect x="289" y="697" width="24" height="11" stroke="#e09a35" fill="#fff" stroke-width="1.5" />
<circle cx="295" cy="703" r="2.2" stroke="#555" stroke-width="0.8" fill="none"/>
<line x1="302" y1="706" x2="309" y2="699" stroke="#555" stroke-width="0.8" />
<rect x="940" y="697" width="23" height="11" stroke="#e09a35" fill="#fff" stroke-width="1.5" />
<circle cx="957" cy="703" r="2.2" stroke="#555" stroke-width="0.8" fill="none"/>
<line x1="944" y1="706" x2="951" y2="699" stroke="#555" stroke-width="0.8" />
<path d="M256.0 541.5A48.5 48.5 0 0 1 304.5 590.0" stroke="#c86464" stroke-width="0.9" fill="none" />
<line x1="256" y1="590.5" x2="304.5" y2="590.5" stroke="#c87070" stroke-width="2.2" />
<line x1="256" y1="590.5" x2="304.5" y2="590.5" stroke="#fff" stroke-width="0.6" />
<path d="M305.0 610.0A50 50 0 0 1 355.0 560.0" stroke="#c86464" stroke-width="0.9" fill="none" />
<path d="M431.0 499.0A50.5 50.5 0 0 1 481.5 448.5" stroke="#c86464" stroke-width="0.9" fill="none" />
<line x1="430" y1="499" x2="481.5" y2="499" stroke="#c87070" stroke-width="2.2" />
<line x1="430" y1="499.5" x2="481.5" y2="499.5" stroke="#fff" stroke-width="0.6" />
<path d="M401.0 500.0A55 55 0 0 1 456.0 555.0" stroke="#c86464" stroke-width="0.9" fill="none" />
<line x1="401" y1="500" x2="401" y2="555" stroke="#c87070" stroke-width="2.2" />
<line x1="401.5" y1="500" x2="401.5" y2="555" stroke="#fff" stroke-width="0.6" />
<path d="M774.5 448.5A50.5 50.5 0 0 1 825.0 499.0" stroke="#c86464" stroke-width="0.9" fill="none" />
<line x1="774.5" y1="499" x2="825" y2="499" stroke="#c87070" stroke-width="2.2" />
<line x1="774.5" y1="499.5" x2="825" y2="499.5" stroke="#fff" stroke-width="0.6" />
<path d="M800.0 555.0A55 55 0 0 1 855.0 500.0" stroke="#c86464" stroke-width="0.9" fill="none" />
<line x1="855" y1="500" x2="855" y2="555" stroke="#c87070" stroke-width="2.2" />
<line x1="855.5" y1="500" x2="855.5" y2="555" stroke="#fff" stroke-width="0.6" />
<path d="M956.5 590.0A48.5 48.5 0 0 1 1005.0 541.5" stroke="#c86464" stroke-width="0.9" fill="none" />
<line x1="957" y1="590.5" x2="1005" y2="590.5" stroke="#c87070" stroke-width="2.2" />
<line x1="957" y1="590.5" x2="1005" y2="590.5" stroke="#fff" stroke-width="0.6" />
<path d="M903.0 560.0A50 50 0 0 1 953.0 610.0" stroke="#c86464" stroke-width="0.9" fill="none" />
<path d="M418.0 689.0A55 55 0 0 1 363.0 634.0" stroke="#c86464" stroke-width="0.9" fill="none" />
<line x1="418" y1="628" x2="418" y2="686" stroke="#c87070" stroke-width="2.2" />
<line x1="418.5" y1="628" x2="418.5" y2="686" stroke="#fff" stroke-width="0.6" />
<path d="M394.4 727.5A51.5 51.5 0 0 1 376.0 688.0" stroke="#c86464" stroke-width="0.9" fill="none" />
<line x1="376" y1="688.5" x2="427.5" y2="688.5" stroke="#c87070" stroke-width="2.2" />
<line x1="376" y1="688.5" x2="427.5" y2="688.5" stroke="#fff" stroke-width="0.6" />
<path d="M891.0 634.0A55 55 0 0 1 836.0 689.0" stroke="#c86464" stroke-width="0.9" fill="none" />
<line x1="836" y1="628" x2="836" y2="686" stroke="#c87070" stroke-width="2.2" />
<line x1="836.5" y1="628" x2="836.5" y2="686" stroke="#fff" stroke-width="0.6" />
<path d="M881.0 688.0A43.5 43.5 0 0 1 865.5 721.3" stroke="#c86464" stroke-width="0.9" fill="none" />
<line x1="837.5" y1="688.5" x2="881" y2="688.5" stroke="#c87070" stroke-width="2.2" />
<line x1="837.5" y1="688.5" x2="881" y2="688.5" stroke="#fff" stroke-width="0.6" />
<rect x="133.5" y="524" width="11" height="45" stroke="#555" fill="#fff" stroke-width="1" />
<path d="M141 536H165.0A10.0 10.0 0 0 1 165.0 556H141Z" stroke="#333" stroke-width="1" fill="#fff" />
<circle cx="145.5" cy="544.5" r="3.6" stroke="#111" stroke-width="1.8" fill="#fff"/>
<line x1="155" y1="546" x2="170" y2="544" stroke="#555" stroke-width="0.8" />
<path d="M204 509H227V515.3A11.5 11.700000000000001 0 0 1 204 515.3Z" stroke="#555" stroke-width="0.9" fill="#fff" />
<ellipse cx="215.5" cy="517.1" rx="9.0" ry="7.2" stroke="#444" stroke-width="0.9" fill="none"/>
<line x1="215.5" y1="511" x2="215.5" y2="514" stroke="#333" stroke-width="1" />
<rect x="134" y="581" width="44" height="46" stroke="#444" fill="#fff" stroke-width="1" />
<rect x="136.5" y="583.5" width="39" height="41" stroke="#333" fill="none" stroke-width="1" />
<text x="161" y="609" font-size="10.5" fill="#222" text-anchor="middle" font-family="Liberation Sans" >201</text>
<rect x="214" y="592" width="33" height="35" stroke="#444" fill="#fff" stroke-width="1" />
<circle cx="230.5" cy="609.5" r="12.5" stroke="#444" stroke-width="0.9" fill="none"/>
<rect x="217" y="623.5" width="29" height="3.5" stroke="none" fill="#e02020" stroke-width="0" />
<rect x="213" y="592" width="35" height="36" stroke="#555" fill="none" stroke-width="0.8" />
<path d="M502.5 504V521.75A10.75 10.75 0 0 0 524.0 521.75V504Z" stroke="#333" stroke-width="1" fill="#fff" />
<rect x="500" y="541" width="29" height="3.5" stroke="none" fill="#e02020" stroke-width="0" />
<line x1="486" y1="533.5" x2="541" y2="533.5" stroke="#444" stroke-width="0.9" />
<path d="M506 424H530V430.65A12.0 12.35 0 0 1 506 430.65Z" stroke="#555" stroke-width="0.9" fill="#fff" />
<ellipse cx="518.0" cy="432.55" rx="9.5" ry="7.6000000000000005" stroke="#444" stroke-width="0.9" fill="none"/>
<line x1="518.5" y1="426" x2="518.5" y2="429" stroke="#333" stroke-width="1" />
<path d="M732.5 504V521.75A10.75 10.75 0 0 0 754.0 521.75V504Z" stroke="#333" stroke-width="1" fill="#fff" />
<rect x="727" y="541" width="29" height="3.5" stroke="none" fill="#e02020" stroke-width="0" />
<line x1="717" y1="533.5" x2="770" y2="533.5" stroke="#444" stroke-width="0.9" />
<path d="M726 424H750V430.65A12.0 12.35 0 0 1 726 430.65Z" stroke="#555" stroke-width="0.9" fill="#fff" />
<ellipse cx="738.0" cy="432.55" rx="9.5" ry="7.6000000000000005" stroke="#444" stroke-width="0.9" fill="none"/>
<line x1="738.5" y1="426" x2="738.5" y2="429" stroke="#333" stroke-width="1" />
<rect x="1111" y="524" width="10" height="36" stroke="#555" fill="#fff" stroke-width="1" />
<path d="M1114 538H1092A10 10 0 0 0 1092 558H1114Z" stroke="#333" stroke-width="1" fill="#fff" />
<circle cx="1110" cy="544.5" r="3.6" stroke="#111" stroke-width="1.8" fill="#fff"/>
<path d="M1030 509H1055V515.3A12.5 11.700000000000001 0 0 1 1030 515.3Z" stroke="#555" stroke-width="0.9" fill="#fff" />
<ellipse cx="1042.5" cy="517.1" rx="10.0" ry="7.2" stroke="#444" stroke-width="0.9" fill="none"/>
<line x1="1042.5" y1="511" x2="1042.5" y2="514" stroke="#333" stroke-width="1" />
<rect x="1077" y="581" width="45" height="46" stroke="#444" fill="#fff" stroke-width="1" />
<rect x="1079.5" y="583.5" width="40" height="41" stroke="#333" fill="none" stroke-width="1" />
<rect x="1013" y="592" width="35" height="35" stroke="#444" fill="#fff" stroke-width="1" />
<circle cx="1030.5" cy="609.5" r="13.5" stroke="#444" stroke-width="0.9" fill="none"/>
<rect x="1016" y="623.5" width="30" height="3.5" stroke="none" fill="#e02020" stroke-width="0" />
<rect x="434" y="640" width="45" height="11.5" stroke="#555" fill="#fff" stroke-width="1" />
<circle cx="439" cy="645.5" r="3.6" stroke="#111" stroke-width="1.8" fill="#fff"/>
<line x1="446" y1="646.5" x2="460" y2="646.5" stroke="#666" stroke-width="0.8" />
<path d="M445 655V670.5A10.5 10.5 0 0 0 466 670.5V655Z" stroke="#333" stroke-width="1" fill="#fff" />
<rect x="490.8" y="639" width="45" height="45.7" stroke="#444" fill="#fff" stroke-width="1" />
<rect x="493.3" y="641.5" width="40" height="40.7" stroke="#333" fill="none" stroke-width="1" />
<rect x="778" y="640" width="45" height="11.5" stroke="#555" fill="#fff" stroke-width="1" />
<circle cx="818" cy="645.5" r="3.6" stroke="#111" stroke-width="1.8" fill="#fff"/>
<path d="M792 655V670.5A10.5 10.5 0 0 0 813 670.5V655Z" stroke="#333" stroke-width="1" fill="#fff" />
<rect x="721.5" y="639" width="45" height="45.7" stroke="#444" fill="#fff" stroke-width="1" />
<rect x="724.0" y="641.5" width="40" height="40.7" stroke="#333" fill="none" stroke-width="1" />
<rect x="134" y="397" width="34.5" height="34" stroke="#666" fill="#fff" stroke-width="1" />
<line x1="134" y1="397" x2="168.5" y2="397" stroke="#888" stroke-width="2" />
<rect x="139.5" y="431.5" width="27" height="32.5" stroke="#444" fill="#fff" stroke-width="1" />
<line x1="153.0" y1="431.5" x2="153.0" y2="464.0" stroke="#111" stroke-width="1.6" />
<line x1="139.5" y1="447.5" x2="166.5" y2="447.5" stroke="#444" stroke-width="0.9" />
<line x1="146.5" y1="432.5" x2="146.5" y2="463.0" stroke="#555" stroke-width="0.7" />
<line x1="140.5" y1="439.5" x2="165.5" y2="439.5" stroke="#555" stroke-width="0.7" />
<line x1="159.5" y1="432.5" x2="159.5" y2="463.0" stroke="#555" stroke-width="0.7" />
<line x1="140.5" y1="455.5" x2="165.5" y2="455.5" stroke="#555" stroke-width="0.7" />
<circle cx="146.25" cy="439.625" r="2.2" stroke="#555" stroke-width="0.7" fill="#fff"/>
<circle cx="159.75" cy="439.625" r="2.2" stroke="#555" stroke-width="0.7" fill="#fff"/>
<circle cx="146.25" cy="455.875" r="2.2" stroke="#555" stroke-width="0.7" fill="#fff"/>
<circle cx="159.75" cy="455.875" r="2.2" stroke="#555" stroke-width="0.7" fill="#fff"/>
<rect x="134" y="466" width="122.5" height="34" stroke="#333" fill="#fff" stroke-width="1" />
<line x1="150.5" y1="466" x2="150.5" y2="500" stroke="#333" stroke-width="0.9" />
<line x1="196.5" y1="466" x2="196.5" y2="500" stroke="#333" stroke-width="0.9" />
<line x1="222.5" y1="466" x2="222.5" y2="500" stroke="#333" stroke-width="0.9" />
<circle cx="145.5" cy="478.5" r="3.6" stroke="#111" stroke-width="1.8" fill="#fff"/>
<circle cx="145.5" cy="492" r="3.6" stroke="#111" stroke-width="1.8" fill="#fff"/>
<line x1="154.5" y1="469.5" x2="169.0" y2="469.5" stroke="#444" stroke-width="0.8" />
<line x1="154.5" y1="471.5" x2="169.0" y2="471.5" stroke="#444" stroke-width="0.8" />
<line x1="154.5" y1="473.5" x2="169.0" y2="473.5" stroke="#444" stroke-width="0.8" />
<line x1="154.5" y1="476.5" x2="169.0" y2="476.5" stroke="#444" stroke-width="0.8" />
<line x1="154.5" y1="478.5" x2="169.0" y2="478.5" stroke="#444" stroke-width="0.8" />
<line x1="154.5" y1="481.5" x2="169.0" y2="481.5" stroke="#444" stroke-width="0.8" />
<line x1="154.5" y1="483.5" x2="169.0" y2="483.5" stroke="#444" stroke-width="0.8" />
<line x1="154.5" y1="485.5" x2="169.0" y2="485.5" stroke="#444" stroke-width="0.8" />
<line x1="154.5" y1="488.5" x2="169.0" y2="488.5" stroke="#444" stroke-width="0.8" />
<line x1="154.5" y1="490.5" x2="169.0" y2="490.5" stroke="#444" stroke-width="0.8" />
<rect x="154.5" y="468" width="14.5" height="4" stroke="none" fill="#999" stroke-width="0" />
<rect x="154.5" y="488" width="14.5" height="4" stroke="none" fill="#999" stroke-width="0" />
<rect x="173.5" y="468" width="20.5" height="23" stroke="#555" fill="#fff" stroke-width="1" />
<rect x="176.0" y="470.5" width="15.5" height="18" rx="5" stroke="#444" stroke-width="0.9" fill="none"/>
<text x="176" y="497" font-size="11" fill="#222" text-anchor="start" font-family="Liberation Sans" textLength="44" lengthAdjust="spacingAndGlyphs" >H=257cm</text>
<text x="240" y="491" font-size="16" fill="#111" text-anchor="middle" font-family="Liberation Sans" >*</text>
<rect x="1088" y="397" width="34" height="36" stroke="#666" fill="#fff" stroke-width="1" />
<line x1="1088" y1="397" x2="1122" y2="397" stroke="#888" stroke-width="2" />
<rect x="1090" y="433" width="30" height="32" stroke="#444" fill="#fff" stroke-width="1" />
<line x1="1105.0" y1="433" x2="1105.0" y2="465" stroke="#111" stroke-width="1.6" />
<line x1="1090" y1="449.5" x2="1120" y2="449.5" stroke="#444" stroke-width="0.9" />
<line x1="1097.5" y1="434" x2="1097.5" y2="464" stroke="#555" stroke-width="0.7" />
<line x1="1091" y1="441.5" x2="1119" y2="441.5" stroke="#555" stroke-width="0.7" />
<line x1="1112.5" y1="434" x2="1112.5" y2="464" stroke="#555" stroke-width="0.7" />
<line x1="1091" y1="457.5" x2="1119" y2="457.5" stroke="#555" stroke-width="0.7" />
<circle cx="1097.5" cy="441.0" r="2.2" stroke="#555" stroke-width="0.7" fill="#fff"/>
<circle cx="1112.5" cy="441.0" r="2.2" stroke="#555" stroke-width="0.7" fill="#fff"/>
<circle cx="1097.5" cy="457.0" r="2.2" stroke="#555" stroke-width="0.7" fill="#fff"/>
<circle cx="1112.5" cy="457.0" r="2.2" stroke="#555" stroke-width="0.7" fill="#fff"/>
<rect x="1005" y="466" width="116" height="35" stroke="#333" fill="#fff" stroke-width="1" />
<line x1="1039.5" y1="466" x2="1039.5" y2="501" stroke="#333" stroke-width="0.9" />
<line x1="1066.5" y1="466" x2="1066.5" y2="501" stroke="#333" stroke-width="0.9" />
<line x1="1088.5" y1="466" x2="1088.5" y2="501" stroke="#333" stroke-width="0.9" />
<circle cx="1110" cy="478.5" r="3.6" stroke="#111" stroke-width="1.8" fill="#fff"/>
<circle cx="1110" cy="492" r="3.6" stroke="#111" stroke-width="1.8" fill="#fff"/>
<line x1="1091.5" y1="468" x2="1091.5" y2="494" stroke="#444" stroke-width="0.8" />
<line x1="1093.5" y1="468" x2="1093.5" y2="494" stroke="#444" stroke-width="0.8" />
<line x1="1095.5" y1="468" x2="1095.5" y2="494" stroke="#444" stroke-width="0.8" />
<line x1="1098.5" y1="468" x2="1098.5" y2="494" stroke="#444" stroke-width="0.8" />
<line x1="1100.5" y1="468" x2="1100.5" y2="494" stroke="#444" stroke-width="0.8" />
<line x1="1103.5" y1="468" x2="1103.5" y2="494" stroke="#444" stroke-width="0.8" />
<rect x="1095.0" y="468" width="6" height="26" stroke="none" fill="#999" stroke-width="0" />
<rect x="1066" y="468" width="21" height="23" stroke="#555" fill="#fff" stroke-width="1" />
<rect x="1068.5" y="470.5" width="16" height="18" rx="5" stroke="#444" stroke-width="0.9" fill="none"/>
<text x="1010.5" y="498.5" font-size="11" fill="#222" text-anchor="start" font-family="Liberation Sans" textLength="45" lengthAdjust="spacingAndGlyphs" >H=257cm</text>
<text x="1022" y="493" font-size="16" fill="#111" text-anchor="middle" font-family="Liberation Sans" >*</text>
<rect x="587" y="312.3" width="34.6" height="22.5" stroke="#555" fill="#fff" stroke-width="1" />
<line x1="587" y1="334.5" x2="621.6" y2="334.5" stroke="#999" stroke-width="2" />
<rect x="589" y="337" width="24" height="21.5" stroke="#555" fill="#fff" stroke-width="1" />
<rect x="591.5" y="339.5" width="19" height="16.5" rx="5" stroke="#444" stroke-width="0.9" fill="none"/>
<line x1="591.5" y1="362" x2="591.5" y2="377" stroke="#444" stroke-width="0.8" />
<line x1="593.5" y1="362" x2="593.5" y2="377" stroke="#444" stroke-width="0.8" />
<line x1="595.5" y1="362" x2="595.5" y2="377" stroke="#444" stroke-width="0.8" />
<line x1="598.5" y1="362" x2="598.5" y2="377" stroke="#444" stroke-width="0.8" />
<line x1="600.5" y1="362" x2="600.5" y2="377" stroke="#444" stroke-width="0.8" />
<line x1="603.5" y1="362" x2="603.5" y2="377" stroke="#444" stroke-width="0.8" />
<line x1="605.5" y1="362" x2="605.5" y2="377" stroke="#444" stroke-width="0.8" />
<line x1="607.5" y1="362" x2="607.5" y2="377" stroke="#444" stroke-width="0.8" />
<line x1="610.5" y1="362" x2="610.5" y2="377" stroke="#444" stroke-width="0.8" />
<rect x="598.5" y="362" width="6" height="15" stroke="none" fill="#999" stroke-width="0" />
<line x1="587" y1="381.5" x2="621.6" y2="381.5" stroke="#444" stroke-width="0.9" />
<line x1="587.5" y1="312" x2="587.5" y2="417" stroke="#444" stroke-width="1" />
<circle cx="614" cy="399.5" r="4" stroke="#111" stroke-width="1.8" fill="#fff"/>
<circle cx="614" cy="411" r="4" stroke="#111" stroke-width="1.8" fill="#fff"/>
<line x1="595" y1="400" x2="608" y2="398" stroke="#777" stroke-width="0.8" />
<line x1="595" y1="411" x2="608" y2="410" stroke="#777" stroke-width="0.8" />
<rect x="553" y="383" width="34" height="33" stroke="#444" fill="#fff" stroke-width="1" />
<line x1="570.0" y1="383" x2="570.0" y2="416" stroke="#111" stroke-width="1.6" />
<line x1="553" y1="399.5" x2="587" y2="399.5" stroke="#444" stroke-width="0.9" />
<line x1="561.5" y1="384" x2="561.5" y2="415" stroke="#555" stroke-width="0.7" />
<line x1="554" y1="391.5" x2="586" y2="391.5" stroke="#555" stroke-width="0.7" />
<line x1="578.5" y1="384" x2="578.5" y2="415" stroke="#555" stroke-width="0.7" />
<line x1="554" y1="407.5" x2="586" y2="407.5" stroke="#555" stroke-width="0.7" />
<circle cx="561.5" cy="391.25" r="2.2" stroke="#555" stroke-width="0.7" fill="#fff"/>
<circle cx="578.5" cy="391.25" r="2.2" stroke="#555" stroke-width="0.7" fill="#fff"/>
<circle cx="561.5" cy="407.75" r="2.2" stroke="#555" stroke-width="0.7" fill="#fff"/>
<circle cx="578.5" cy="407.75" r="2.2" stroke="#555" stroke-width="0.7" fill="#fff"/>
<rect x="484" y="380" width="103" height="37" stroke="#444" fill="none" stroke-width="1" />
<line x1="553.5" y1="380" x2="553.5" y2="417" stroke="#444" stroke-width="0.9" />
<line x1="517.5" y1="380" x2="517.5" y2="417" stroke="#444" stroke-width="0.9" />
<text x="506" y="413" font-size="11" fill="#222" text-anchor="start" font-family="Liberation Sans" textLength="46" lengthAdjust="spacingAndGlyphs" >H=247cm</text>
<text x="500" y="405" font-size="16" fill="#111" text-anchor="middle" font-family="Liberation Sans" >*</text>
<circle cx="639.6" cy="399.5" r="4" stroke="#111" stroke-width="1.8" fill="#fff"/>
<circle cx="639.6" cy="411" r="4" stroke="#111" stroke-width="1.8" fill="#fff"/>
<line x1="595" y1="431" x2="608" y2="430" stroke="#777" stroke-width="0.8" />
<line x1="646" y1="430" x2="660" y2="431" stroke="#777" stroke-width="0.8" />
<line x1="646" y1="399" x2="660" y2="400" stroke="#777" stroke-width="0.8" />
<line x1="646" y1="410" x2="660" y2="411" stroke="#777" stroke-width="0.8" />
<rect x="633.2" y="312.3" width="35.3" height="22.5" stroke="#555" fill="#fff" stroke-width="1" />
<line x1="633.2" y1="334.5" x2="668.5" y2="334.5" stroke="#999" stroke-width="2" />
<rect x="642" y="337" width="24" height="21.5" stroke="#555" fill="#fff" stroke-width="1" />
<rect x="644.5" y="339.5" width="19" height="16.5" rx="5" stroke="#444" stroke-width="0.9" fill="none"/>
<line x1="643.5" y1="362" x2="643.5" y2="377" stroke="#444" stroke-width="0.8" />
<line x1="645.5" y1="362" x2="645.5" y2="377" stroke="#444" stroke-width="0.8" />
<line x1="647.5" y1="362" x2="647.5" y2="377" stroke="#444" stroke-width="0.8" />
<line x1="650.5" y1="362" x2="650.5" y2="377" stroke="#444" stroke-width="0.8" />
<line x1="652.5" y1="362" x2="652.5" y2="377" stroke="#444" stroke-width="0.8" />
<line x1="655.5" y1="362" x2="655.5" y2="377" stroke="#444" stroke-width="0.8" />
<line x1="657.5" y1="362" x2="657.5" y2="377" stroke="#444" stroke-width="0.8" />
<line x1="659.5" y1="362" x2="659.5" y2="377" stroke="#444" stroke-width="0.8" />
<line x1="662.5" y1="362" x2="662.5" y2="377" stroke="#444" stroke-width="0.8" />
<rect x="650.5" y="362" width="6" height="15" stroke="none" fill="#999" stroke-width="0" />
<line x1="633.2" y1="381.5" x2="668.5" y2="381.5" stroke="#444" stroke-width="0.9" />
<line x1="668.5" y1="312" x2="668.5" y2="417" stroke="#444" stroke-width="1" />
<rect x="669.5" y="383" width="34" height="33" stroke="#444" fill="#fff" stroke-width="1" />
<line x1="686.5" y1="383" x2="686.5" y2="416" stroke="#111" stroke-width="1.6" />
<line x1="669.5" y1="399.5" x2="703.5" y2="399.5" stroke="#444" stroke-width="0.9" />
<line x1="678.5" y1="384" x2="678.5" y2="415" stroke="#555" stroke-width="0.7" />
<line x1="670.5" y1="391.5" x2="702.5" y2="391.5" stroke="#555" stroke-width="0.7" />
<line x1="695.5" y1="384" x2="695.5" y2="415" stroke="#555" stroke-width="0.7" />
<line x1="670.5" y1="407.5" x2="702.5" y2="407.5" stroke="#555" stroke-width="0.7" />
<circle cx="678.0" cy="391.25" r="2.2" stroke="#555" stroke-width="0.7" fill="#fff"/>
<circle cx="695.0" cy="391.25" r="2.2" stroke="#555" stroke-width="0.7" fill="#fff"/>
<circle cx="678.0" cy="407.75" r="2.2" stroke="#555" stroke-width="0.7" fill="#fff"/>
<circle cx="695.0" cy="407.75" r="2.2" stroke="#555" stroke-width="0.7" fill="#fff"/>
<rect x="668.5" y="380" width="103" height="37" stroke="#444" fill="none" stroke-width="1" />
<line x1="737.5" y1="380" x2="737.5" y2="417" stroke="#444" stroke-width="0.9" />
<text x="692" y="413" font-size="11" fill="#222" text-anchor="start" font-family="Liberation Sans" textLength="46" lengthAdjust="spacingAndGlyphs" >H=247cm</text>
<text x="757" y="405" font-size="16" fill="#111" text-anchor="middle" font-family="Liberation Sans" >*</text>
<rect x="575.8" y="425.6" width="45" height="39" stroke="#444" fill="#fff" stroke-width="1" />
<rect x="578" y="427.5" width="41" height="35" stroke="#999" fill="none" stroke-width="1.2" />
<rect x="634.5" y="425.6" width="45" height="39" stroke="#444" fill="#fff" stroke-width="1" />
<rect x="636.5" y="427.5" width="41" height="35" stroke="#999" fill="none" stroke-width="1.2" />
<rect x="586.7" y="466" width="34" height="31" stroke="#333" fill="#fff" stroke-width="1" />
<circle cx="603.5" cy="483" r="11.5" stroke="#444" stroke-width="0.9" fill="none"/>
<text x="604" y="494" font-size="10.5" fill="#222" text-anchor="middle" font-family="Liberation Sans" >62</text>
<rect x="636" y="466" width="34" height="31" stroke="#333" fill="#fff" stroke-width="1" />
<circle cx="654" cy="483" r="11.5" stroke="#444" stroke-width="0.9" fill="none"/>
<text x="655" y="494" font-size="10.5" fill="#222" text-anchor="middle" font-family="Liberation Sans" >71</text>
<circle cx="614" cy="430" r="4" stroke="#111" stroke-width="1.8" fill="#fff"/>
<circle cx="639.6" cy="430" r="4" stroke="#111" stroke-width="1.8" fill="#fff"/>
<line x1="133" y1="673.5" x2="289" y2="673.5" stroke="#222" stroke-width="1" />
<line x1="151.5" y1="640" x2="151.5" y2="673.5" stroke="#555" stroke-width="1" />
<line x1="185.5" y1="640" x2="185.5" y2="673.5" stroke="#555" stroke-width="1" />
<line x1="208.5" y1="640" x2="208.5" y2="673.5" stroke="#555" stroke-width="1" />
<line x1="255.5" y1="640" x2="255.5" y2="673.5" stroke="#555" stroke-width="1" />
<line x1="276.5" y1="640" x2="276.5" y2="673.5" stroke="#555" stroke-width="1" />
<rect x="152" y="644" width="33" height="28" stroke="#444" fill="#fff" stroke-width="1" />
<line x1="168.5" y1="644" x2="168.5" y2="672" stroke="#111" stroke-width="1.6" />
<line x1="152" y1="658.5" x2="185" y2="658.5" stroke="#444" stroke-width="0.9" />
<line x1="160.5" y1="645" x2="160.5" y2="671" stroke="#555" stroke-width="0.7" />
<line x1="153" y1="651.5" x2="184" y2="651.5" stroke="#555" stroke-width="0.7" />
<line x1="176.5" y1="645" x2="176.5" y2="671" stroke="#555" stroke-width="0.7" />
<line x1="153" y1="665.5" x2="184" y2="665.5" stroke="#555" stroke-width="0.7" />
<circle cx="160.25" cy="651.0" r="2.2" stroke="#555" stroke-width="0.7" fill="#fff"/>
<circle cx="176.75" cy="651.0" r="2.2" stroke="#555" stroke-width="0.7" fill="#fff"/>
<circle cx="160.25" cy="665.0" r="2.2" stroke="#555" stroke-width="0.7" fill="#fff"/>
<circle cx="176.75" cy="665.0" r="2.2" stroke="#555" stroke-width="0.7" fill="#fff"/>
<circle cx="203.5" cy="656" r="10" stroke="#555" stroke-width="0.9" fill="none"/>
<line x1="213" y1="648.5" x2="228" y2="648.5" stroke="#444" stroke-width="0.8" />
<line x1="213" y1="650.5" x2="228" y2="650.5" stroke="#444" stroke-width="0.8" />
<line x1="213" y1="652.5" x2="228" y2="652.5" stroke="#444" stroke-width="0.8" />
<line x1="213" y1="655.5" x2="228" y2="655.5" stroke="#444" stroke-width="0.8" />
<line x1="213" y1="657.5" x2="228" y2="657.5" stroke="#444" stroke-width="0.8" />
<line x1="213" y1="660.5" x2="228" y2="660.5" stroke="#444" stroke-width="0.8" />
<line x1="213" y1="662.5" x2="228" y2="662.5" stroke="#444" stroke-width="0.8" />
<line x1="213" y1="664.5" x2="228" y2="664.5" stroke="#444" stroke-width="0.8" />
<line x1="213" y1="667.5" x2="228" y2="667.5" stroke="#444" stroke-width="0.8" />
<line x1="213" y1="669.5" x2="228" y2="669.5" stroke="#444" stroke-width="0.8" />
<rect x="213" y="647" width="15" height="4" stroke="none" fill="#999" stroke-width="0" />
<rect x="213" y="668" width="15" height="4" stroke="none" fill="#999" stroke-width="0" />
<rect x="232" y="645" width="21.5" height="26" stroke="#555" fill="#fff" stroke-width="1" />
<rect x="234.5" y="647.5" width="16.5" height="21" rx="5" stroke="#444" stroke-width="0.9" fill="none"/>
<text x="210.6" y="648.3" font-size="11" fill="#222" text-anchor="start" font-family="Liberation Sans" textLength="44.5" lengthAdjust="spacingAndGlyphs" >H=252cm</text>
<circle cx="283.5" cy="644" r="3.6" stroke="#111" stroke-width="1.8" fill="#fff"/>
<circle cx="283.5" cy="657" r="3.6" stroke="#111" stroke-width="1.8" fill="#fff"/>
<text x="271" y="664" font-size="16" fill="#111" text-anchor="middle" font-family="Liberation Sans" >*</text>
<line x1="262" y1="642.5" x2="278" y2="642.5" stroke="#888" stroke-width="0.8" />
<line x1="262" y1="657.5" x2="278" y2="657.5" stroke="#888" stroke-width="0.8" />
<line x1="963" y1="673.5" x2="1121" y2="673.5" stroke="#222" stroke-width="1" />
<line x1="990.5" y1="640" x2="990.5" y2="673.5" stroke="#555" stroke-width="1" />
<line x1="1021.5" y1="640" x2="1021.5" y2="673.5" stroke="#555" stroke-width="1" />
<line x1="1042.5" y1="640" x2="1042.5" y2="673.5" stroke="#555" stroke-width="1" />
<line x1="1064.5" y1="640" x2="1064.5" y2="673.5" stroke="#555" stroke-width="1" />
<line x1="1101.5" y1="640" x2="1101.5" y2="673.5" stroke="#555" stroke-width="1" />
<rect x="997" y="644" width="23" height="27" stroke="#555" fill="#fff" stroke-width="1" />
<rect x="999.5" y="646.5" width="18" height="22" rx="5" stroke="#444" stroke-width="0.9" fill="none"/>
<line x1="1023" y1="648.5" x2="1040" y2="648.5" stroke="#444" stroke-width="0.8" />
<line x1="1023" y1="650.5" x2="1040" y2="650.5" stroke="#444" stroke-width="0.8" />
<line x1="1023" y1="652.5" x2="1040" y2="652.5" stroke="#444" stroke-width="0.8" />
<line x1="1023" y1="655.5" x2="1040" y2="655.5" stroke="#444" stroke-width="0.8" />
<line x1="1023" y1="657.5" x2="1040" y2="657.5" stroke="#444" stroke-width="0.8" />
<line x1="1023" y1="660.5" x2="1040" y2="660.5" stroke="#444" stroke-width="0.8" />
<line x1="1023" y1="662.5" x2="1040" y2="662.5" stroke="#444" stroke-width="0.8" />
<line x1="1023" y1="664.5" x2="1040" y2="664.5" stroke="#444" stroke-width="0.8" />
<line x1="1023" y1="667.5" x2="1040" y2="667.5" stroke="#444" stroke-width="0.8" />
<line x1="1023" y1="669.5" x2="1040" y2="669.5" stroke="#444" stroke-width="0.8" />
<rect x="1023" y="647" width="17" height="4" stroke="none" fill="#999" stroke-width="0" />
<rect x="1023" y="668" width="17" height="4" stroke="none" fill="#999" stroke-width="0" />
<circle cx="1048" cy="655" r="10" stroke="#555" stroke-width="0.9" fill="none"/>
<rect x="1066.5" y="644" width="33" height="28" stroke="#444" fill="#fff" stroke-width="1" />
<line x1="1083.0" y1="644" x2="1083.0" y2="672" stroke="#111" stroke-width="1.6" />
<line x1="1066.5" y1="658.5" x2="1099.5" y2="658.5" stroke="#444" stroke-width="0.9" />
<line x1="1074.5" y1="645" x2="1074.5" y2="671" stroke="#555" stroke-width="0.7" />
<line x1="1067.5" y1="651.5" x2="1098.5" y2="651.5" stroke="#555" stroke-width="0.7" />
<line x1="1091.5" y1="645" x2="1091.5" y2="671" stroke="#555" stroke-width="0.7" />
<line x1="1067.5" y1="665.5" x2="1098.5" y2="665.5" stroke="#555" stroke-width="0.7" />
<circle cx="1074.75" cy="651.0" r="2.2" stroke="#555" stroke-width="0.7" fill="#fff"/>
<circle cx="1091.25" cy="651.0" r="2.2" stroke="#555" stroke-width="0.7" fill="#fff"/>
<circle cx="1074.75" cy="665.0" r="2.2" stroke="#555" stroke-width="0.7" fill="#fff"/>
<circle cx="1091.25" cy="665.0" r="2.2" stroke="#555" stroke-width="0.7" fill="#fff"/>
<text x="998" y="648" font-size="11" fill="#222" text-anchor="start" font-family="Liberation Sans" textLength="45" lengthAdjust="spacingAndGlyphs" >H=252cm</text>
<circle cx="969.7" cy="644" r="3.6" stroke="#111" stroke-width="1.8" fill="#fff"/>
<circle cx="969.7" cy="657" r="3.6" stroke="#111" stroke-width="1.8" fill="#fff"/>
<text x="979" y="664" font-size="16" fill="#111" text-anchor="middle" font-family="Liberation Sans" >*</text>
<line x1="536.8" y1="627" x2="536.8" y2="708" stroke="#eb9a35" stroke-width="1.8" />
<line x1="552.2" y1="627" x2="552.2" y2="708" stroke="#eb9a35" stroke-width="1.8" />
<line x1="706" y1="627" x2="706" y2="708" stroke="#eb9a35" stroke-width="1.8" />
<line x1="722" y1="627" x2="722" y2="708" stroke="#eb9a35" stroke-width="1.8" />
<line x1="536" y1="627" x2="553" y2="627" stroke="#eb9a35" stroke-width="2" />
<line x1="705" y1="627" x2="722" y2="627" stroke="#eb9a35" stroke-width="2" />
<rect x="536.5" y="607" width="16" height="20" stroke="#d07070" fill="none" stroke-width="0.9" stroke-dasharray="3 2"/>
<rect x="705.5" y="607" width="16" height="20" stroke="#d07070" fill="none" stroke-width="0.9" stroke-dasharray="3 2"/>
<line x1="553" y1="627" x2="622" y2="627" stroke="#999" stroke-width="1.6" />
<line x1="553" y1="644.5" x2="622" y2="644.5" stroke="#333" stroke-width="0.9" />
<line x1="553" y1="677.5" x2="622" y2="677.5" stroke="#333" stroke-width="0.9" />
<line x1="553" y1="694.5" x2="622" y2="694.5" stroke="#333" stroke-width="0.9" />
<line x1="553" y1="661" x2="622" y2="661" stroke="#999" stroke-width="1.5" />
<line x1="590.5" y1="627" x2="590.5" y2="708" stroke="#333" stroke-width="0.9" />
<line x1="576" y1="641" x2="590" y2="628" stroke="#333" stroke-width="0.9" />
<line x1="622.5" y1="627" x2="622.5" y2="708" stroke="#666" stroke-width="0.9" />
<line x1="625.5" y1="627" x2="625.5" y2="708" stroke="#666" stroke-width="0.9" />
<line x1="628.5" y1="627" x2="628.5" y2="708" stroke="#666" stroke-width="0.9" />
<line x1="630.5" y1="627" x2="630.5" y2="708" stroke="#666" stroke-width="0.9" />
<line x1="633.5" y1="627" x2="633.5" y2="708" stroke="#666" stroke-width="0.9" />
<line x1="634" y1="627.5" x2="705" y2="627.5" stroke="#333" stroke-width="1" />
<line x1="634" y1="651.5" x2="705" y2="651.5" stroke="#333" stroke-width="0.9" />
<line x1="634" y1="668.5" x2="705" y2="668.5" stroke="#333" stroke-width="0.9" />
<line x1="634" y1="701.5" x2="705" y2="701.5" stroke="#333" stroke-width="0.9" />
<line x1="634" y1="634.5" x2="705" y2="634.5" stroke="#999" stroke-width="1.5" />
<line x1="634" y1="684.8" x2="705" y2="684.8" stroke="#999" stroke-width="1.5" />
<line x1="669.5" y1="627" x2="669.5" y2="708" stroke="#777" stroke-width="1" />
<text x="583" y="688" font-size="10.5" fill="#2a2a2a" text-anchor="middle" font-family="Liberation Sans" transform="rotate(-90 583 688)" >x 17.5</text>
<text x="596" y="703" font-size="10.5" fill="#2a2a2a" text-anchor="middle" font-family="Liberation Sans" transform="rotate(-90 596 703)" >0</text>
<text x="664" y="680" font-size="10.5" fill="#2a2a2a" text-anchor="middle" font-family="Liberation Sans" transform="rotate(-90 664 680)" >x 17.3</text>
<text x="678" y="700" font-size="10.5" fill="#2a2a2a" text-anchor="middle" font-family="Liberation Sans" transform="rotate(-90 678 700)" >9,0</text>
<rect x="615" y="534.5" width="27.5" height="9" stroke="#444" fill="#fff" stroke-width="0.9" />
<line x1="618" y1="541.5" x2="640" y2="541.5" stroke="#666" stroke-width="0.8" />
<text x="807" y="662" font-size="10.5" fill="#2a2a2a" text-anchor="middle" font-family="Liberation Sans" transform="rotate(-90 807 662)" >82</text>
<text x="425.5" y="711.5" font-size="11.5" fill="#bd4452" text-anchor="middle" font-family="Liberation Sans" >80</text>
<text x="832" y="711.5" font-size="11.5" fill="#bd4452" text-anchor="middle" font-family="Liberation Sans" >80</text>
<line x1="134" y1="248.5" x2="1122" y2="248.5" stroke="#555" stroke-width="1" />
<line x1="133.4" y1="249.6" x2="136.6" y2="246.4" stroke="#222" stroke-width="1" />
<line x1="174.4" y1="249.6" x2="177.6" y2="246.4" stroke="#222" stroke-width="1" />
<line x1="232.4" y1="249.6" x2="235.6" y2="246.4" stroke="#222" stroke-width="1" />
<line x1="254.9" y1="249.6" x2="258.1" y2="246.4" stroke="#222" stroke-width="1" />
<line x1="312.4" y1="249.6" x2="315.6" y2="246.4" stroke="#222" stroke-width="1" />
<line x1="347.0" y1="249.6" x2="350.2" y2="246.4" stroke="#222" stroke-width="1" />
<line x1="359.1" y1="249.6" x2="362.3" y2="246.4" stroke="#222" stroke-width="1" />
<line x1="415.7" y1="249.6" x2="418.9" y2="246.4" stroke="#222" stroke-width="1" />
<line x1="473.4" y1="249.6" x2="476.6" y2="246.4" stroke="#222" stroke-width="1" />
<line x1="495.4" y1="249.6" x2="498.6" y2="246.4" stroke="#222" stroke-width="1" />
<line x1="553.1" y1="249.6" x2="556.3" y2="246.4" stroke="#222" stroke-width="1" />
<line x1="620.0" y1="249.6" x2="623.2" y2="246.4" stroke="#222" stroke-width="1" />
<line x1="632.1" y1="249.6" x2="635.3" y2="246.4" stroke="#222" stroke-width="1" />
<line x1="699.6" y1="249.6" x2="702.8" y2="246.4" stroke="#222" stroke-width="1" />
<line x1="757.3" y1="249.6" x2="760.5" y2="246.4" stroke="#222" stroke-width="1" />
<line x1="779.2" y1="249.6" x2="782.4" y2="246.4" stroke="#222" stroke-width="1" />
<line x1="836.9" y1="249.6" x2="840.1" y2="246.4" stroke="#222" stroke-width="1" />
<line x1="893.5" y1="249.6" x2="896.7" y2="246.4" stroke="#222" stroke-width="1" />
<line x1="905.6" y1="249.6" x2="908.8" y2="246.4" stroke="#222" stroke-width="1" />
<line x1="937.9" y1="249.6" x2="941.1" y2="246.4" stroke="#222" stroke-width="1" />
<line x1="995.6" y1="249.6" x2="998.8" y2="246.4" stroke="#222" stroke-width="1" />
<line x1="1022.7" y1="249.6" x2="1025.9" y2="246.4" stroke="#222" stroke-width="1" />
<line x1="1080.4" y1="249.6" x2="1083.6" y2="246.4" stroke="#222" stroke-width="1" />
<line x1="1119.1" y1="249.6" x2="1122.3" y2="246.4" stroke="#222" stroke-width="1" />
<text x="156" y="246.5" font-size="10.5" fill="#2a2a2a" text-anchor="middle" font-family="Liberation Sans" >71</text>
<text x="205" y="246.5" font-size="10.5" fill="#2a2a2a" text-anchor="middle" font-family="Liberation Sans" >100</text>
<text x="245" y="246.5" font-size="10.5" fill="#2a2a2a" text-anchor="middle" font-family="Liberation Sans" >39</text>
<text x="286" y="246.5" font-size="10.5" fill="#2a2a2a" text-anchor="middle" font-family="Liberation Sans" >100</text>
<text x="331" y="246.5" font-size="10.5" fill="#2a2a2a" text-anchor="middle" font-family="Liberation Sans" >60</text>
<text x="368" y="246.5" font-size="10.5" fill="#2a2a2a" text-anchor="middle" font-family="Liberation Sans" >21</text>
<text x="389" y="246.5" font-size="10.5" fill="#2a2a2a" text-anchor="middle" font-family="Liberation Sans" >98</text>
<text x="446" y="246.5" font-size="10.5" fill="#2a2a2a" text-anchor="middle" font-family="Liberation Sans" >100</text>
<text x="486" y="246.5" font-size="10.5" fill="#2a2a2a" text-anchor="middle" font-family="Liberation Sans" >38</text>
<text x="526" y="246.5" font-size="10.5" fill="#2a2a2a" text-anchor="middle" font-family="Liberation Sans" >100</text>
<text x="588" y="246.5" font-size="10.5" fill="#2a2a2a" text-anchor="middle" font-family="Liberation Sans" >116</text>
<text x="641" y="246.5" font-size="10.5" fill="#2a2a2a" text-anchor="middle" font-family="Liberation Sans" >21</text>
<text x="668" y="246.5" font-size="10.5" fill="#2a2a2a" text-anchor="middle" font-family="Liberation Sans" >117</text>
<text x="730" y="246.5" font-size="10.5" fill="#2a2a2a" text-anchor="middle" font-family="Liberation Sans" >100</text>
<text x="770" y="246.5" font-size="10.5" fill="#2a2a2a" text-anchor="middle" font-family="Liberation Sans" >38</text>
<text x="810" y="246.5" font-size="10.5" fill="#2a2a2a" text-anchor="middle" font-family="Liberation Sans" >100</text>
<text x="866" y="246.5" font-size="10.5" fill="#2a2a2a" text-anchor="middle" font-family="Liberation Sans" >98</text>
<text x="893" y="246.5" font-size="10.5" fill="#2a2a2a" text-anchor="middle" font-family="Liberation Sans" >21</text>
<text x="924" y="246.5" font-size="10.5" fill="#2a2a2a" text-anchor="middle" font-family="Liberation Sans" >56</text>
<text x="968" y="246.5" font-size="10.5" fill="#2a2a2a" text-anchor="middle" font-family="Liberation Sans" >100</text>
<text x="1011" y="246.5" font-size="10.5" fill="#2a2a2a" text-anchor="middle" font-family="Liberation Sans" >47</text>
<text x="1053" y="246.5" font-size="10.5" fill="#2a2a2a" text-anchor="middle" font-family="Liberation Sans" >100</text>
<text x="1096" y="246.5" font-size="10.5" fill="#2a2a2a" text-anchor="middle" font-family="Liberation Sans" >67</text>
<line x1="134" y1="444.5" x2="1122" y2="444.5" stroke="#555" stroke-width="1" />
<line x1="257.4" y1="446.0" x2="260.6" y2="442.8" stroke="#222" stroke-width="1" />
<line x1="349.1" y1="446.0" x2="352.3" y2="442.8" stroke="#222" stroke-width="1" />
<line x1="361.2" y1="446.0" x2="364.4" y2="442.8" stroke="#222" stroke-width="1" />
<line x1="477.7" y1="446.0" x2="480.9" y2="442.8" stroke="#222" stroke-width="1" />
<line x1="484.4" y1="446.0" x2="487.6" y2="442.8" stroke="#222" stroke-width="1" />
<line x1="620.0" y1="446.0" x2="623.2" y2="442.8" stroke="#222" stroke-width="1" />
<line x1="632.1" y1="446.0" x2="635.3" y2="442.8" stroke="#222" stroke-width="1" />
<line x1="767.7" y1="446.0" x2="770.9" y2="442.8" stroke="#222" stroke-width="1" />
<line x1="776.3" y1="446.0" x2="779.5" y2="442.8" stroke="#222" stroke-width="1" />
<line x1="893.4" y1="446.0" x2="896.6" y2="442.8" stroke="#222" stroke-width="1" />
<line x1="905.6" y1="446.0" x2="908.8" y2="442.8" stroke="#222" stroke-width="1" />
<line x1="1003.1" y1="446.0" x2="1006.3" y2="442.8" stroke="#222" stroke-width="1" />
<line x1="1120.4" y1="446.0" x2="1123.6" y2="442.8" stroke="#222" stroke-width="1" />
<text x="192" y="443" font-size="10.5" fill="#2a2a2a" text-anchor="middle" font-family="Liberation Sans" >227</text>
<text x="303" y="443" font-size="10.5" fill="#2a2a2a" text-anchor="middle" font-family="Liberation Sans" >159</text>
<text x="368" y="443" font-size="10.5" fill="#2a2a2a" text-anchor="middle" font-family="Liberation Sans" >21</text>
<text x="420" y="443" font-size="10.5" fill="#2a2a2a" text-anchor="middle" font-family="Liberation Sans" >202</text>
<text x="470" y="443" font-size="10.5" fill="#2a2a2a" text-anchor="middle" font-family="Liberation Sans" >15</text>
<text x="554" y="443" font-size="10.5" fill="#2a2a2a" text-anchor="middle" font-family="Liberation Sans" >235</text>
<text x="643" y="443" font-size="10.5" fill="#2a2a2a" text-anchor="middle" font-family="Liberation Sans" >21</text>
<text x="701" y="443" font-size="10.5" fill="#2a2a2a" text-anchor="middle" font-family="Liberation Sans" >235</text>
<text x="785" y="443" font-size="10.5" fill="#2a2a2a" text-anchor="middle" font-family="Liberation Sans" >15</text>
<text x="837" y="443" font-size="10.5" fill="#2a2a2a" text-anchor="middle" font-family="Liberation Sans" >203</text>
<text x="914" y="443" font-size="10.5" fill="#2a2a2a" text-anchor="middle" font-family="Liberation Sans" >21</text>
<text x="956" y="443" font-size="10.5" fill="#2a2a2a" text-anchor="middle" font-family="Liberation Sans" >169</text>
<text x="1072" y="443" font-size="10.5" fill="#2a2a2a" text-anchor="middle" font-family="Liberation Sans" >205</text>
<line x1="362" y1="516.5" x2="586" y2="516.5" stroke="#777" stroke-width="1.2" />
<line x1="674" y1="516.5" x2="895" y2="516.5" stroke="#777" stroke-width="1.2" />
<line x1="398.4" y1="518.1" x2="401.6" y2="514.9" stroke="#222" stroke-width="1" />
<line x1="456.4" y1="518.1" x2="459.6" y2="514.9" stroke="#222" stroke-width="1" />
<line x1="477.4" y1="518.1" x2="480.6" y2="514.9" stroke="#222" stroke-width="1" />
<line x1="484.4" y1="518.1" x2="487.6" y2="514.9" stroke="#222" stroke-width="1" />
<line x1="538.4" y1="518.1" x2="541.6" y2="514.9" stroke="#222" stroke-width="1" />
<line x1="715.4" y1="518.1" x2="718.6" y2="514.9" stroke="#222" stroke-width="1" />
<line x1="758.4" y1="518.1" x2="761.6" y2="514.9" stroke="#222" stroke-width="1" />
<line x1="768.4" y1="518.1" x2="771.6" y2="514.9" stroke="#222" stroke-width="1" />
<line x1="776.4" y1="518.1" x2="779.6" y2="514.9" stroke="#222" stroke-width="1" />
<line x1="798.4" y1="518.1" x2="801.6" y2="514.9" stroke="#222" stroke-width="1" />
<line x1="856.4" y1="518.1" x2="859.6" y2="514.9" stroke="#222" stroke-width="1" />
<text x="379" y="515" font-size="10.5" fill="#2a2a2a" text-anchor="middle" font-family="Liberation Sans" >65</text>
<text x="427" y="515" font-size="10.5" fill="#2a2a2a" text-anchor="middle" font-family="Liberation Sans" >100</text>
<text x="467" y="515" font-size="10.5" fill="#2a2a2a" text-anchor="middle" font-family="Liberation Sans" >37</text>
<text x="513" y="515" font-size="10.5" fill="#2a2a2a" text-anchor="middle" font-family="Liberation Sans" >94</text>
<text x="551" y="515" font-size="10.5" fill="#2a2a2a" text-anchor="middle" font-family="Liberation Sans" >80</text>
<text x="696" y="515" font-size="10.5" fill="#2a2a2a" text-anchor="middle" font-family="Liberation Sans" >74</text>
<text x="744" y="515" font-size="10.5" fill="#2a2a2a" text-anchor="middle" font-family="Liberation Sans" >90</text>
<text x="760" y="515" font-size="10.5" fill="#2a2a2a" text-anchor="middle" font-family="Liberation Sans" >15</text>
<text x="790" y="515" font-size="10.5" fill="#2a2a2a" text-anchor="middle" font-family="Liberation Sans" >38</text>
<text x="829" y="515" font-size="10.5" fill="#2a2a2a" text-anchor="middle" font-family="Liberation Sans" >100</text>
<text x="876" y="515" font-size="10.5" fill="#2a2a2a" text-anchor="middle" font-family="Liberation Sans" >65</text>
<line x1="134" y1="539.5" x2="348" y2="539.5" stroke="#333" stroke-width="1" />
<line x1="907" y1="539.5" x2="1128" y2="539.5" stroke="#333" stroke-width="1" />
<line x1="133.4" y1="541.1" x2="136.6" y2="537.9" stroke="#222" stroke-width="1" />
<line x1="181.4" y1="541.1" x2="184.6" y2="537.9" stroke="#222" stroke-width="1" />
<line x1="247.4" y1="541.1" x2="250.6" y2="537.9" stroke="#222" stroke-width="1" />
<line x1="255.9" y1="541.1" x2="259.1" y2="537.9" stroke="#222" stroke-width="1" />
<line x1="347.0" y1="541.1" x2="350.2" y2="537.9" stroke="#222" stroke-width="1" />
<line x1="1003.1" y1="541.1" x2="1006.3" y2="537.9" stroke="#222" stroke-width="1" />
<line x1="1010.9" y1="541.1" x2="1014.1" y2="537.9" stroke="#222" stroke-width="1" />
<line x1="1070.4" y1="541.1" x2="1073.6" y2="537.9" stroke="#222" stroke-width="1" />
<line x1="1120.4" y1="541.1" x2="1123.6" y2="537.9" stroke="#222" stroke-width="1" />
<text x="118" y="537.5" font-size="10.5" fill="#2a2a2a" text-anchor="middle" font-family="Liberation Sans" >12</text>
<text x="157" y="537.5" font-size="10.5" fill="#2a2a2a" text-anchor="middle" font-family="Liberation Sans" >85</text>
<text x="215.5" y="537.5" font-size="10.5" fill="#2a2a2a" text-anchor="middle" font-family="Liberation Sans" >115</text>
<text x="264" y="537.5" font-size="10.5" fill="#2a2a2a" text-anchor="middle" font-family="Liberation Sans" >15</text>
<text x="303" y="537.5" font-size="10.5" fill="#2a2a2a" text-anchor="middle" font-family="Liberation Sans" >159</text>
<text x="996" y="537.5" font-size="10.5" fill="#2a2a2a" text-anchor="middle" font-family="Liberation Sans" >15</text>
<text x="1043" y="537.5" font-size="10.5" fill="#2a2a2a" text-anchor="middle" font-family="Liberation Sans" >103</text>
<text x="1098" y="537.5" font-size="10.5" fill="#2a2a2a" text-anchor="middle" font-family="Liberation Sans" >87</text>
<text x="1137" y="537.5" font-size="10.5" fill="#2a2a2a" text-anchor="middle" font-family="Liberation Sans" >12</text>
<line x1="362" y1="570.5" x2="895" y2="570.5" stroke="#666" stroke-width="1.1" />
<line x1="361.2" y1="572.1" x2="364.4" y2="568.9" stroke="#222" stroke-width="1" />
<line x1="551.4" y1="572.1" x2="554.6" y2="568.9" stroke="#222" stroke-width="1" />
<line x1="600.4" y1="572.1" x2="603.6" y2="568.9" stroke="#222" stroke-width="1" />
<line x1="647.4" y1="572.1" x2="650.6" y2="568.9" stroke="#222" stroke-width="1" />
<line x1="704.4" y1="572.1" x2="707.6" y2="568.9" stroke="#222" stroke-width="1" />
<line x1="761.4" y1="572.1" x2="764.6" y2="568.9" stroke="#222" stroke-width="1" />
<line x1="893.4" y1="572.1" x2="896.6" y2="568.9" stroke="#222" stroke-width="1" />
<text x="456" y="568" font-size="10.5" fill="#2a2a2a" text-anchor="middle" font-family="Liberation Sans" >331</text>
<text x="577.5" y="568" font-size="10.5" fill="#2a2a2a" text-anchor="middle" font-family="Liberation Sans" >88</text>
<text x="626" y="568" font-size="10.5" fill="#2a2a2a" text-anchor="middle" font-family="Liberation Sans" >80</text>
<text x="677.5" y="568" font-size="10.5" fill="#2a2a2a" text-anchor="middle" font-family="Liberation Sans" >98</text>
<text x="800" y="568" font-size="10.5" fill="#2a2a2a" text-anchor="middle" font-family="Liberation Sans" >328</text>
<line x1="134" y1="610.5" x2="1005" y2="610.5" stroke="#555" stroke-width="1" />
<line x1="246.9" y1="611.9" x2="250.1" y2="608.7" stroke="#222" stroke-width="1" />
<line x1="288.4" y1="611.9" x2="291.6" y2="608.7" stroke="#222" stroke-width="1" />
<line x1="334.4" y1="611.9" x2="337.6" y2="608.7" stroke="#222" stroke-width="1" />
<line x1="347.4" y1="611.9" x2="350.6" y2="608.7" stroke="#222" stroke-width="1" />
<line x1="361.2" y1="611.9" x2="364.4" y2="608.7" stroke="#222" stroke-width="1" />
<line x1="551.4" y1="611.9" x2="554.6" y2="608.7" stroke="#222" stroke-width="1" />
<line x1="703.4" y1="611.9" x2="706.6" y2="608.7" stroke="#222" stroke-width="1" />
<line x1="893.4" y1="611.9" x2="896.6" y2="608.7" stroke="#222" stroke-width="1" />
<line x1="903.4" y1="611.9" x2="906.6" y2="608.7" stroke="#222" stroke-width="1" />
<line x1="915.4" y1="611.9" x2="918.6" y2="608.7" stroke="#222" stroke-width="1" />
<line x1="960.4" y1="611.9" x2="963.6" y2="608.7" stroke="#222" stroke-width="1" />
<line x1="977.4" y1="611.9" x2="980.6" y2="608.7" stroke="#222" stroke-width="1" />
<line x1="1003.4" y1="611.9" x2="1006.6" y2="608.7" stroke="#222" stroke-width="1" />
<text x="273" y="608.5" font-size="10.5" fill="#2a2a2a" text-anchor="middle" font-family="Liberation Sans" >56</text>
<text x="312" y="608.5" font-size="10.5" fill="#2a2a2a" text-anchor="middle" font-family="Liberation Sans" >80</text>
<text x="342.5" y="608.5" font-size="10.5" fill="#2a2a2a" text-anchor="middle" font-family="Liberation Sans" >23</text>
<text x="353" y="608.5" font-size="10.5" fill="#2a2a2a" text-anchor="middle" font-family="Liberation Sans" >2</text>
<text x="475" y="608.5" font-size="10.5" fill="#2a2a2a" text-anchor="middle" font-family="Liberation Sans" >396</text>
<text x="743" y="608.5" font-size="10.5" fill="#2a2a2a" text-anchor="middle" font-family="Liberation Sans" >529</text>
<text x="903" y="608.5" font-size="10.5" fill="#2a2a2a" text-anchor="middle" font-family="Liberation Sans" >21</text>
<text x="919" y="608.5" font-size="10.5" fill="#2a2a2a" text-anchor="middle" font-family="Liberation Sans" >17</text>
<text x="940" y="608.5" font-size="10.5" fill="#2a2a2a" text-anchor="middle" font-family="Liberation Sans" >79</text>
<text x="990" y="608.5" font-size="10.5" fill="#2a2a2a" text-anchor="middle" font-family="Liberation Sans" >73</text>
<line x1="836" y1="661.5" x2="940" y2="661.5" stroke="#333" stroke-width="1" />
<line x1="843.4" y1="662.6" x2="846.6" y2="659.4" stroke="#222" stroke-width="1" />
<line x1="898.4" y1="662.6" x2="901.6" y2="659.4" stroke="#222" stroke-width="1" />
<line x1="915.4" y1="662.6" x2="918.6" y2="659.4" stroke="#222" stroke-width="1" />
<text x="842.5" y="659.5" font-size="10.5" fill="#2a2a2a" text-anchor="middle" font-family="Liberation Sans" >4</text>
<text x="865" y="659.5" font-size="10.5" fill="#2a2a2a" text-anchor="middle" font-family="Liberation Sans" >100</text>
<text x="905" y="659.5" font-size="10.5" fill="#2a2a2a" text-anchor="middle" font-family="Liberation Sans" >40</text>
<text x="928" y="659.5" font-size="10.5" fill="#2a2a2a" text-anchor="middle" font-family="Liberation Sans" >39</text>
<line x1="164.5" y1="192" x2="164.5" y2="500" stroke="#333" stroke-width="1" />
<line x1="162.7" y1="249.6" x2="165.9" y2="246.4" stroke="#222" stroke-width="1" />
<line x1="162.7" y1="259.6" x2="165.9" y2="256.4" stroke="#222" stroke-width="1" />
<line x1="162.7" y1="346.6" x2="165.9" y2="343.4" stroke="#222" stroke-width="1" />
<line x1="162.7" y1="398.6" x2="165.9" y2="395.4" stroke="#222" stroke-width="1" />
<line x1="162.7" y1="432.6" x2="165.9" y2="429.4" stroke="#222" stroke-width="1" />
<line x1="339.5" y1="192" x2="339.5" y2="708" stroke="#333" stroke-width="1" />
<line x1="338.2" y1="249.6" x2="341.4" y2="246.4" stroke="#222" stroke-width="1" />
<line x1="338.2" y1="561.6" x2="341.4" y2="558.4" stroke="#222" stroke-width="1" />
<line x1="338.2" y1="611.6" x2="341.4" y2="608.4" stroke="#222" stroke-width="1" />
<line x1="338.2" y1="628.6" x2="341.4" y2="625.4" stroke="#222" stroke-width="1" />
<line x1="338.2" y1="641.6" x2="341.4" y2="638.4" stroke="#222" stroke-width="1" />
<line x1="377.5" y1="181" x2="377.5" y2="560" stroke="#333" stroke-width="1" />
<line x1="375.9" y1="193.6" x2="379.1" y2="190.4" stroke="#222" stroke-width="1" />
<line x1="375.9" y1="249.6" x2="379.1" y2="246.4" stroke="#222" stroke-width="1" />
<line x1="375.9" y1="547.6" x2="379.1" y2="544.4" stroke="#222" stroke-width="1" />
<line x1="500.5" y1="192" x2="500.5" y2="708" stroke="#333" stroke-width="1" />
<line x1="498.4" y1="249.6" x2="501.6" y2="246.4" stroke="#222" stroke-width="1" />
<line x1="498.4" y1="399.6" x2="501.6" y2="396.4" stroke="#222" stroke-width="1" />
<line x1="498.4" y1="418.6" x2="501.6" y2="415.4" stroke="#222" stroke-width="1" />
<line x1="498.4" y1="453.6" x2="501.6" y2="450.4" stroke="#222" stroke-width="1" />
<line x1="498.4" y1="501.6" x2="501.6" y2="498.4" stroke="#222" stroke-width="1" />
<line x1="498.4" y1="534.6" x2="501.6" y2="531.4" stroke="#222" stroke-width="1" />
<line x1="498.4" y1="547.6" x2="501.6" y2="544.4" stroke="#222" stroke-width="1" />
<line x1="498.4" y1="557.6" x2="501.6" y2="554.4" stroke="#222" stroke-width="1" />
<line x1="498.4" y1="581.6" x2="501.6" y2="578.4" stroke="#222" stroke-width="1" />
<line x1="498.4" y1="611.6" x2="501.6" y2="608.4" stroke="#222" stroke-width="1" />
<line x1="498.4" y1="628.6" x2="501.6" y2="625.4" stroke="#222" stroke-width="1" />
<line x1="498.4" y1="641.6" x2="501.6" y2="638.4" stroke="#222" stroke-width="1" />
<line x1="572.5" y1="192" x2="572.5" y2="546" stroke="#333" stroke-width="1" />
<line x1="570.4" y1="249.6" x2="573.6" y2="246.4" stroke="#222" stroke-width="1" />
<line x1="570.4" y1="259.6" x2="573.6" y2="256.4" stroke="#222" stroke-width="1" />
<line x1="570.4" y1="346.6" x2="573.6" y2="343.4" stroke="#222" stroke-width="1" />
<line x1="570.4" y1="382.6" x2="573.6" y2="379.4" stroke="#222" stroke-width="1" />
<line x1="570.4" y1="418.6" x2="573.6" y2="415.4" stroke="#222" stroke-width="1" />
<line x1="570.4" y1="453.6" x2="573.6" y2="450.4" stroke="#222" stroke-width="1" />
<line x1="570.4" y1="501.6" x2="573.6" y2="498.4" stroke="#222" stroke-width="1" />
<line x1="570.4" y1="524.6" x2="573.6" y2="521.4" stroke="#222" stroke-width="1" />
<line x1="595.5" y1="527" x2="595.5" y2="560" stroke="#333" stroke-width="1" />
<line x1="593.4" y1="535.6" x2="596.6" y2="532.4" stroke="#222" stroke-width="1" />
<line x1="593.4" y1="557.6" x2="596.6" y2="554.4" stroke="#222" stroke-width="1" />
<line x1="688.5" y1="417" x2="688.5" y2="546" stroke="#333" stroke-width="1" />
<line x1="686.9" y1="453.6" x2="690.1" y2="450.4" stroke="#222" stroke-width="1" />
<line x1="686.9" y1="501.6" x2="690.1" y2="498.4" stroke="#222" stroke-width="1" />
<line x1="686.9" y1="524.6" x2="690.1" y2="521.4" stroke="#222" stroke-width="1" />
<line x1="688.5" y1="192" x2="688.5" y2="417" stroke="#333" stroke-width="1" />
<line x1="686.9" y1="249.6" x2="690.1" y2="246.4" stroke="#222" stroke-width="1" />
<line x1="686.9" y1="259.6" x2="690.1" y2="256.4" stroke="#222" stroke-width="1" />
<line x1="686.9" y1="346.6" x2="690.1" y2="343.4" stroke="#222" stroke-width="1" />
<line x1="686.9" y1="382.6" x2="690.1" y2="379.4" stroke="#222" stroke-width="1" />
<line x1="764.5" y1="192" x2="764.5" y2="560" stroke="#333" stroke-width="1" />
<line x1="762.4" y1="249.6" x2="765.6" y2="246.4" stroke="#222" stroke-width="1" />
<line x1="762.4" y1="399.6" x2="765.6" y2="396.4" stroke="#222" stroke-width="1" />
<line x1="762.4" y1="418.6" x2="765.6" y2="415.4" stroke="#222" stroke-width="1" />
<line x1="762.4" y1="453.6" x2="765.6" y2="450.4" stroke="#222" stroke-width="1" />
<line x1="762.4" y1="501.6" x2="765.6" y2="498.4" stroke="#222" stroke-width="1" />
<line x1="762.4" y1="534.6" x2="765.6" y2="531.4" stroke="#222" stroke-width="1" />
<line x1="762.4" y1="547.6" x2="765.6" y2="544.4" stroke="#222" stroke-width="1" />
<line x1="762.4" y1="557.6" x2="765.6" y2="554.4" stroke="#222" stroke-width="1" />
<line x1="790.5" y1="540" x2="790.5" y2="708" stroke="#333" stroke-width="1" />
<line x1="788.9" y1="557.6" x2="792.1" y2="554.4" stroke="#222" stroke-width="1" />
<line x1="788.9" y1="581.6" x2="792.1" y2="578.4" stroke="#222" stroke-width="1" />
<line x1="788.9" y1="611.6" x2="792.1" y2="608.4" stroke="#222" stroke-width="1" />
<line x1="788.9" y1="628.6" x2="792.1" y2="625.4" stroke="#222" stroke-width="1" />
<line x1="788.9" y1="641.6" x2="792.1" y2="638.4" stroke="#222" stroke-width="1" />
<line x1="885.5" y1="181" x2="885.5" y2="560" stroke="#333" stroke-width="1" />
<line x1="883.4" y1="193.6" x2="886.6" y2="190.4" stroke="#222" stroke-width="1" />
<line x1="883.4" y1="249.6" x2="886.6" y2="246.4" stroke="#222" stroke-width="1" />
<line x1="883.4" y1="547.6" x2="886.6" y2="544.4" stroke="#222" stroke-width="1" />
<line x1="925.5" y1="192" x2="925.5" y2="616" stroke="#333" stroke-width="1" />
<line x1="924.0" y1="249.6" x2="927.2" y2="246.4" stroke="#222" stroke-width="1" />
<line x1="924.0" y1="561.6" x2="927.2" y2="558.4" stroke="#222" stroke-width="1" />
<line x1="924.0" y1="611.6" x2="927.2" y2="608.4" stroke="#222" stroke-width="1" />
<line x1="923.5" y1="638" x2="923.5" y2="708" stroke="#333" stroke-width="1" />
<line x1="921.9" y1="662.6" x2="925.1" y2="659.4" stroke="#222" stroke-width="1" />
<line x1="979.5" y1="192" x2="979.5" y2="708" stroke="#333" stroke-width="1" />
<line x1="977.4" y1="249.6" x2="980.6" y2="246.4" stroke="#222" stroke-width="1" />
<line x1="977.4" y1="501.6" x2="980.6" y2="498.4" stroke="#222" stroke-width="1" />
<line x1="977.4" y1="542.6" x2="980.6" y2="539.4" stroke="#222" stroke-width="1" />
<line x1="977.4" y1="557.6" x2="980.6" y2="554.4" stroke="#222" stroke-width="1" />
<line x1="977.4" y1="601.6" x2="980.6" y2="598.4" stroke="#222" stroke-width="1" />
<line x1="977.4" y1="611.6" x2="980.6" y2="608.4" stroke="#222" stroke-width="1" />
<line x1="977.4" y1="628.6" x2="980.6" y2="625.4" stroke="#222" stroke-width="1" />
<line x1="977.4" y1="641.6" x2="980.6" y2="638.4" stroke="#222" stroke-width="1" />
<line x1="1105.5" y1="192" x2="1105.5" y2="500" stroke="#333" stroke-width="1" />
<line x1="1103.4" y1="249.6" x2="1106.6" y2="246.4" stroke="#222" stroke-width="1" />
<line x1="1103.4" y1="259.6" x2="1106.6" y2="256.4" stroke="#222" stroke-width="1" />
<line x1="1103.4" y1="346.6" x2="1106.6" y2="343.4" stroke="#222" stroke-width="1" />
<line x1="1103.4" y1="398.6" x2="1106.6" y2="395.4" stroke="#222" stroke-width="1" />
<line x1="1103.4" y1="432.6" x2="1106.6" y2="429.4" stroke="#222" stroke-width="1" />
<line x1="194.5" y1="500" x2="194.5" y2="628" stroke="#333" stroke-width="1" />
<line x1="192.4" y1="509.6" x2="195.6" y2="506.4" stroke="#222" stroke-width="1" />
<line x1="192.4" y1="528.6" x2="195.6" y2="525.4" stroke="#222" stroke-width="1" />
<line x1="192.4" y1="541.6" x2="195.6" y2="538.4" stroke="#222" stroke-width="1" />
<line x1="241.5" y1="466" x2="241.5" y2="628" stroke="#333" stroke-width="1" />
<line x1="240.2" y1="501.6" x2="243.4" y2="498.4" stroke="#222" stroke-width="1" />
<line x1="240.2" y1="509.6" x2="243.4" y2="506.4" stroke="#222" stroke-width="1" />
<line x1="240.2" y1="541.6" x2="243.4" y2="538.4" stroke="#222" stroke-width="1" />
<line x1="240.2" y1="593.6" x2="243.4" y2="590.4" stroke="#222" stroke-width="1" />
<line x1="276.5" y1="638" x2="276.5" y2="708" stroke="#333" stroke-width="1" />
<line x1="275.1" y1="674.6" x2="278.3" y2="671.4" stroke="#222" stroke-width="1" />
<line x1="325.5" y1="638" x2="325.5" y2="708" stroke="#333" stroke-width="1" />
<line x1="323.4" y1="651.6" x2="326.6" y2="648.4" stroke="#222" stroke-width="1" />
<line x1="323.4" y1="698.6" x2="326.6" y2="695.4" stroke="#222" stroke-width="1" />
<line x1="1012.5" y1="466" x2="1012.5" y2="541" stroke="#333" stroke-width="1" />
<line x1="1067.5" y1="500" x2="1067.5" y2="628" stroke="#333" stroke-width="1" />
<line x1="1065.4" y1="509.6" x2="1068.6" y2="506.4" stroke="#222" stroke-width="1" />
<line x1="1065.4" y1="528.6" x2="1068.6" y2="525.4" stroke="#222" stroke-width="1" />
<line x1="1065.4" y1="541.6" x2="1068.6" y2="538.4" stroke="#222" stroke-width="1" />
<line x1="1088.5" y1="440" x2="1088.5" y2="466" stroke="#333" stroke-width="1" />
<text x="164" y="225" font-size="10.5" fill="#2a2a2a" text-anchor="middle" font-family="Liberation Sans" transform="rotate(-90 164 225)" >115</text>
<text x="164" y="300" font-size="10.5" fill="#2a2a2a" text-anchor="middle" font-family="Liberation Sans" transform="rotate(-90 164 300)" >150</text>
<text x="164" y="413" font-size="10.5" fill="#2a2a2a" text-anchor="middle" font-family="Liberation Sans" transform="rotate(-90 164 413)" >270</text>
<text x="339.5" y="378" font-size="10.5" fill="#2a2a2a" text-anchor="middle" font-family="Liberation Sans" transform="rotate(-90 339.5 378)" >635</text>
<text x="378" y="175" font-size="10.5" fill="#2a2a2a" text-anchor="middle" font-family="Liberation Sans" transform="rotate(-90 378 175)" >17</text>
<text x="377.5" y="350" font-size="10.5" fill="#2a2a2a" text-anchor="middle" font-family="Liberation Sans" transform="rotate(-90 377.5 350)" >612</text>
<text x="499.5" y="360" font-size="10.5" fill="#2a2a2a" text-anchor="middle" font-family="Liberation Sans" transform="rotate(-90 499.5 360)" >388</text>
<text x="499.5" y="409" font-size="10.5" fill="#2a2a2a" text-anchor="middle" font-family="Liberation Sans" transform="rotate(-90 499.5 409)" >15</text>
<text x="499.5" y="435" font-size="10.5" fill="#2a2a2a" text-anchor="middle" font-family="Liberation Sans" transform="rotate(-90 499.5 435)" >45</text>
<text x="499.5" y="475" font-size="10.5" fill="#2a2a2a" text-anchor="middle" font-family="Liberation Sans" transform="rotate(-90 499.5 475)" >88</text>
<text x="499.5" y="522.5" font-size="10.5" fill="#2a2a2a" text-anchor="middle" font-family="Liberation Sans" transform="rotate(-90 499.5 522.5)" >76</text>
<text x="499.5" y="565" font-size="10.5" fill="#2a2a2a" text-anchor="middle" font-family="Liberation Sans" transform="rotate(-90 499.5 565)" >21</text>
<text x="499.5" y="590" font-size="10.5" fill="#2a2a2a" text-anchor="middle" font-family="Liberation Sans" transform="rotate(-90 499.5 590)" >122</text>
<text x="499.5" y="620" font-size="10.5" fill="#2a2a2a" text-anchor="middle" font-family="Liberation Sans" transform="rotate(-90 499.5 620)" >21</text>
<text x="499.5" y="673" font-size="10.5" fill="#2a2a2a" text-anchor="middle" font-family="Liberation Sans" transform="rotate(-90 499.5 673)" >180</text>
<text x="571.5" y="225" font-size="10.5" fill="#2a2a2a" text-anchor="middle" font-family="Liberation Sans" transform="rotate(-90 571.5 225)" >115</text>
<text x="571.5" y="300" font-size="10.5" fill="#2a2a2a" text-anchor="middle" font-family="Liberation Sans" transform="rotate(-90 571.5 300)" >150</text>
<text x="572.5" y="366" font-size="10.5" fill="#2a2a2a" text-anchor="middle" font-family="Liberation Sans" transform="rotate(-90 572.5 366)" >123</text>
<text x="571.5" y="461" font-size="10.5" fill="#2a2a2a" text-anchor="middle" font-family="Liberation Sans" transform="rotate(-90 571.5 461)" >133</text>
<text x="571.5" y="513" font-size="10.5" fill="#2a2a2a" text-anchor="middle" font-family="Liberation Sans" transform="rotate(-90 571.5 513)" >38</text>
<text x="571.5" y="540" font-size="10.5" fill="#2a2a2a" text-anchor="middle" font-family="Liberation Sans" transform="rotate(-90 571.5 540)" >21</text>
<text x="595" y="545" font-size="10.5" fill="#2a2a2a" text-anchor="middle" font-family="Liberation Sans" transform="rotate(-90 595 545)" >34</text>
<text x="688" y="225" font-size="10.5" fill="#2a2a2a" text-anchor="middle" font-family="Liberation Sans" transform="rotate(-90 688 225)" >115</text>
<text x="688" y="300" font-size="10.5" fill="#2a2a2a" text-anchor="middle" font-family="Liberation Sans" transform="rotate(-90 688 300)" >150</text>
<text x="688.5" y="366" font-size="10.5" fill="#2a2a2a" text-anchor="middle" font-family="Liberation Sans" transform="rotate(-90 688.5 366)" >123</text>
<text x="688" y="461" font-size="10.5" fill="#2a2a2a" text-anchor="middle" font-family="Liberation Sans" transform="rotate(-90 688 461)" >133</text>
<text x="688" y="513" font-size="10.5" fill="#2a2a2a" text-anchor="middle" font-family="Liberation Sans" transform="rotate(-90 688 513)" >38</text>
<text x="764" y="228" font-size="10.5" fill="#2a2a2a" text-anchor="middle" font-family="Liberation Sans" transform="rotate(-90 764 228)" >388</text>
<text x="764.5" y="410" font-size="10.5" fill="#2a2a2a" text-anchor="middle" font-family="Liberation Sans" transform="rotate(-90 764.5 410)" >15</text>
<text x="764" y="435" font-size="10.5" fill="#2a2a2a" text-anchor="middle" font-family="Liberation Sans" transform="rotate(-90 764 435)" >45</text>
<text x="764" y="475" font-size="10.5" fill="#2a2a2a" text-anchor="middle" font-family="Liberation Sans" transform="rotate(-90 764 475)" >88</text>
<text x="764" y="522.5" font-size="10.5" fill="#2a2a2a" text-anchor="middle" font-family="Liberation Sans" transform="rotate(-90 764 522.5)" >76</text>
<text x="763" y="563" font-size="10.5" fill="#2a2a2a" text-anchor="middle" font-family="Liberation Sans" transform="rotate(-90 763 563)" >21</text>
<text x="788" y="590" font-size="10.5" fill="#2a2a2a" text-anchor="middle" font-family="Liberation Sans" transform="rotate(-90 788 590)" >122</text>
<text x="788" y="622" font-size="10.5" fill="#2a2a2a" text-anchor="middle" font-family="Liberation Sans" transform="rotate(-90 788 622)" >21</text>
<text x="788" y="673" font-size="10.5" fill="#2a2a2a" text-anchor="middle" font-family="Liberation Sans" transform="rotate(-90 788 673)" >180</text>
<text x="885" y="175" font-size="10.5" fill="#2a2a2a" text-anchor="middle" font-family="Liberation Sans" transform="rotate(-90 885 175)" >17</text>
<text x="885" y="365" font-size="10.5" fill="#2a2a2a" text-anchor="middle" font-family="Liberation Sans" transform="rotate(-90 885 365)" >612</text>
<text x="925.5" y="375" font-size="10.5" fill="#2a2a2a" text-anchor="middle" font-family="Liberation Sans" transform="rotate(-90 925.5 375)" >635</text>
<text x="979" y="355" font-size="10.5" fill="#2a2a2a" text-anchor="middle" font-family="Liberation Sans" transform="rotate(-90 979 355)" >537</text>
<text x="979" y="520" font-size="10.5" fill="#2a2a2a" text-anchor="middle" font-family="Liberation Sans" transform="rotate(-90 979 520)" >69</text>
<text x="979" y="565" font-size="10.5" fill="#2a2a2a" text-anchor="middle" font-family="Liberation Sans" transform="rotate(-90 979 565)" >88</text>
<text x="979" y="605" font-size="10.5" fill="#2a2a2a" text-anchor="middle" font-family="Liberation Sans" transform="rotate(-90 979 605)" >41</text>
<text x="979" y="623" font-size="10.5" fill="#2a2a2a" text-anchor="middle" font-family="Liberation Sans" transform="rotate(-90 979 623)" >20</text>
<text x="979" y="670" font-size="10.5" fill="#2a2a2a" text-anchor="middle" font-family="Liberation Sans" transform="rotate(-90 979 670)" >103</text>
<text x="1105" y="225" font-size="10.5" fill="#2a2a2a" text-anchor="middle" font-family="Liberation Sans" transform="rotate(-90 1105 225)" >115</text>
<text x="1105" y="300" font-size="10.5" fill="#2a2a2a" text-anchor="middle" font-family="Liberation Sans" transform="rotate(-90 1105 300)" >150</text>
<text x="1105" y="415" font-size="10.5" fill="#2a2a2a" text-anchor="middle" font-family="Liberation Sans" transform="rotate(-90 1105 415)" >272</text>
<text x="1065.5" y="493" font-size="10.5" fill="#2a2a2a" text-anchor="middle" font-family="Liberation Sans" transform="rotate(-90 1065.5 493)" >12</text>
<text x="1066.5" y="515" font-size="10.5" fill="#2a2a2a" text-anchor="middle" font-family="Liberation Sans" transform="rotate(-90 1066.5 515)" >30</text>
<text x="1066.5" y="590" font-size="10.5" fill="#2a2a2a" text-anchor="middle" font-family="Liberation Sans" transform="rotate(-90 1066.5 590)" >175</text>
<text x="927.3" y="585" font-size="10.5" fill="#2a2a2a" text-anchor="middle" font-family="Liberation Sans" transform="rotate(-90 927.3 585)" >100</text>
<text x="989" y="645" font-size="10.5" fill="#2a2a2a" text-anchor="middle" font-family="Liberation Sans" transform="rotate(-90 989 645)" >21</text>
<text x="193.6" y="515" font-size="10.5" fill="#2a2a2a" text-anchor="middle" font-family="Liberation Sans" transform="rotate(-90 193.6 515)" >25</text>
<text x="241" y="524" font-size="10.5" fill="#2a2a2a" text-anchor="middle" font-family="Liberation Sans" transform="rotate(-90 241 524)" >56</text>
<text x="241" y="490" font-size="10.5" fill="#2a2a2a" text-anchor="middle" font-family="Liberation Sans" transform="rotate(-90 241 490)" >15</text>
<text x="241.5" y="565" font-size="10.5" fill="#2a2a2a" text-anchor="middle" font-family="Liberation Sans" transform="rotate(-90 241.5 565)" >88</text>
<text x="194" y="592" font-size="10.5" fill="#2a2a2a" text-anchor="middle" font-family="Liberation Sans" transform="rotate(-90 194 592)" >179</text>
<text x="241.5" y="608" font-size="10.5" fill="#2a2a2a" text-anchor="middle" font-family="Liberation Sans" transform="rotate(-90 241.5 608)" >60</text>
<text x="276" y="675" font-size="10.5" fill="#2a2a2a" text-anchor="middle" font-family="Liberation Sans" transform="rotate(-90 276 675)" >125</text>
<text x="324.5" y="667" font-size="10.5" fill="#2a2a2a" text-anchor="middle" font-family="Liberation Sans" transform="rotate(-90 324.5 667)" >100</text>
<text x="338" y="690" font-size="10.5" fill="#2a2a2a" text-anchor="middle" font-family="Liberation Sans" transform="rotate(-90 338 690)" >180</text>
<text x="324.5" y="704" font-size="10.5" fill="#2a2a2a" text-anchor="middle" font-family="Liberation Sans" transform="rotate(-90 324.5 704)" >25</text>
<text x="338.5" y="645" font-size="10.5" fill="#2a2a2a" text-anchor="middle" font-family="Liberation Sans" transform="rotate(-90 338.5 645)" >21</text>
<text x="340" y="585" font-size="10.5" fill="#2a2a2a" text-anchor="middle" font-family="Liberation Sans" transform="rotate(-90 340 585)" >100</text>
<text x="334.5" y="620" font-size="10.5" fill="#2a2a2a" text-anchor="middle" font-family="Liberation Sans" transform="rotate(-90 334.5 620)" >19</text>
<text x="920" y="700" font-size="10.5" fill="#2a2a2a" text-anchor="middle" font-family="Liberation Sans" transform="rotate(-90 920 700)" >0</text>
<text x="979" y="700" font-size="10.5" fill="#2a2a2a" text-anchor="middle" font-family="Liberation Sans" transform="rotate(-90 979 700)" >5</text>
<text x="473.0" y="219.3" font-size="8.8" fill="#2a2a2a" text-anchor="end" font-family="Liberation Sans" textLength="76.7" lengthAdjust="spacingAndGlyphs" >POKÓJ Z KUCHNIĄ</text>
<text x="481.5" y="219.8" font-size="13" fill="#222" text-anchor="start" font-family="Liberation Sans" >10</text>
<line x1="439.0" y1="222.5" x2="496.0" y2="222.5" stroke="#333" stroke-width="0.9" />
<line x1="476.5" y1="212.0" x2="476.5" y2="232.5" stroke="#333" stroke-width="0.9" />
<text x="472.5" y="229.5" font-size="9.5" fill="#333" text-anchor="end" font-family="Liberation Sans" >panele</text>
<text x="480.5" y="231.0" font-size="9.2" fill="#333" text-anchor="start" font-family="Liberation Sans" >17.6</text>
<text x="845.5" y="222.3" font-size="8.8" fill="#2a2a2a" text-anchor="end" font-family="Liberation Sans" textLength="76.7" lengthAdjust="spacingAndGlyphs" >POKÓJ Z KUCHNIĄ</text>
<text x="854" y="222.8" font-size="13" fill="#222" text-anchor="start" font-family="Liberation Sans" >14</text>
<line x1="811.5" y1="225.5" x2="868.5" y2="225.5" stroke="#333" stroke-width="0.9" />
<line x1="849.5" y1="215.0" x2="849.5" y2="235.5" stroke="#333" stroke-width="0.9" />
<text x="845" y="232.5" font-size="9.5" fill="#333" text-anchor="end" font-family="Liberation Sans" >panele</text>
<text x="853" y="234.0" font-size="9.2" fill="#333" text-anchor="start" font-family="Liberation Sans" >17.6</text>
<text x="268.5" y="381" font-size="8.8" fill="#2a2a2a" text-anchor="end" font-family="Liberation Sans" textLength="76.7" lengthAdjust="spacingAndGlyphs" >POKÓJ Z KUCHNIĄ</text>
<text x="277" y="381.5" font-size="13" fill="#222" text-anchor="start" font-family="Liberation Sans" >8</text>
<line x1="234.5" y1="383.5" x2="291.5" y2="383.5" stroke="#333" stroke-width="0.9" />
<line x1="272.5" y1="373.7" x2="272.5" y2="394.2" stroke="#333" stroke-width="0.9" />
<text x="268" y="391.2" font-size="9.5" fill="#333" text-anchor="end" font-family="Liberation Sans" >panele</text>
<text x="276" y="392.7" font-size="9.2" fill="#333" text-anchor="start" font-family="Liberation Sans" >20.0</text>
<text x="1027.2" y="387.3" font-size="8.8" fill="#2a2a2a" text-anchor="end" font-family="Liberation Sans" textLength="76.7" lengthAdjust="spacingAndGlyphs" >POKÓJ Z KUCHNIĄ</text>
<text x="1035.7" y="387.8" font-size="13" fill="#222" text-anchor="start" font-family="Liberation Sans" >16</text>
<line x1="993.2" y1="390.5" x2="1050.2" y2="390.5" stroke="#333" stroke-width="0.9" />
<line x1="1030.5" y1="380.0" x2="1030.5" y2="400.5" stroke="#333" stroke-width="0.9" />
<text x="1026.7" y="397.5" font-size="9.5" fill="#333" text-anchor="end" font-family="Liberation Sans" >panele</text>
<text x="1034.7" y="399.0" font-size="9.2" fill="#333" text-anchor="start" font-family="Liberation Sans" >20.0</text>
<text x="424.0" y="468" font-size="8.8" fill="#2a2a2a" text-anchor="end" font-family="Liberation Sans" textLength="54.5" lengthAdjust="spacingAndGlyphs" >PRZEDPOKÓJ</text>
<text x="432.5" y="468.5" font-size="13" fill="#222" text-anchor="start" font-family="Liberation Sans" >9</text>
<line x1="390.0" y1="470.5" x2="447.0" y2="470.5" stroke="#333" stroke-width="0.9" />
<line x1="427.5" y1="460.7" x2="427.5" y2="481.2" stroke="#333" stroke-width="0.9" />
<text x="423.5" y="478.2" font-size="9.5" fill="#333" text-anchor="end" font-family="Liberation Sans" >panele</text>
<text x="431.5" y="479.7" font-size="9.2" fill="#333" text-anchor="start" font-family="Liberation Sans" >4.5</text>
<text x="319.0" y="511.5" font-size="8.8" fill="#2a2a2a" text-anchor="end" font-family="Liberation Sans" textLength="54.5" lengthAdjust="spacingAndGlyphs" >PRZEDPOKÓJ</text>
<text x="327.5" y="512.0" font-size="13" fill="#222" text-anchor="start" font-family="Liberation Sans" >6</text>
<line x1="285.0" y1="514.5" x2="342.0" y2="514.5" stroke="#333" stroke-width="0.9" />
<line x1="322.5" y1="504.2" x2="322.5" y2="524.7" stroke="#333" stroke-width="0.9" />
<text x="318.5" y="521.7" font-size="9.5" fill="#333" text-anchor="end" font-family="Liberation Sans" >panele</text>
<text x="326.5" y="523.2" font-size="9.2" fill="#333" text-anchor="start" font-family="Liberation Sans" >3.3</text>
<text x="544.0" y="478.7" font-size="8.8" fill="#2a2a2a" text-anchor="end" font-family="Liberation Sans" textLength="40.5" lengthAdjust="spacingAndGlyphs" >ŁAZIENKA</text>
<text x="552.5" y="479.2" font-size="13" fill="#222" text-anchor="start" font-family="Liberation Sans" >11</text>
<line x1="510.0" y1="481.5" x2="567.0" y2="481.5" stroke="#333" stroke-width="0.9" />
<line x1="547.5" y1="471.4" x2="547.5" y2="491.9" stroke="#333" stroke-width="0.9" />
<text x="543.5" y="488.9" font-size="9.5" fill="#333" text-anchor="end" font-family="Liberation Sans" >gres</text>
<text x="551.5" y="490.4" font-size="9.2" fill="#333" text-anchor="start" font-family="Liberation Sans" >4.1</text>
<text x="731.5" y="483.7" font-size="8.8" fill="#2a2a2a" text-anchor="end" font-family="Liberation Sans" textLength="41" lengthAdjust="spacingAndGlyphs" >ŁAZIENKA</text>
<text x="740" y="484.2" font-size="13" fill="#222" text-anchor="start" font-family="Liberation Sans" >12</text>
<line x1="697.5" y1="486.5" x2="754.5" y2="486.5" stroke="#333" stroke-width="0.9" />
<line x1="735.5" y1="476.4" x2="735.5" y2="496.9" stroke="#333" stroke-width="0.9" />
<text x="731" y="493.9" font-size="9.5" fill="#333" text-anchor="end" font-family="Liberation Sans" >gres</text>
<text x="739" y="495.4" font-size="9.2" fill="#333" text-anchor="start" font-family="Liberation Sans" >4.0</text>
<text x="860.5" y="467.5" font-size="8.8" fill="#2a2a2a" text-anchor="end" font-family="Liberation Sans" textLength="54.5" lengthAdjust="spacingAndGlyphs" >PRZEDPOKÓJ</text>
<text x="869" y="468.0" font-size="13" fill="#222" text-anchor="start" font-family="Liberation Sans" >13</text>
<line x1="826.5" y1="470.5" x2="883.5" y2="470.5" stroke="#333" stroke-width="0.9" />
<line x1="864.5" y1="460.2" x2="864.5" y2="480.7" stroke="#333" stroke-width="0.9" />
<text x="860" y="477.7" font-size="9.5" fill="#333" text-anchor="end" font-family="Liberation Sans" >panele</text>
<text x="868" y="479.2" font-size="9.2" fill="#333" text-anchor="start" font-family="Liberation Sans" >4.5</text>
<text x="966.2" y="495" font-size="8.8" fill="#2a2a2a" text-anchor="end" font-family="Liberation Sans" textLength="55.4" lengthAdjust="spacingAndGlyphs" >PRZEDPOKÓJ</text>
<text x="974.7" y="495.5" font-size="13" fill="#222" text-anchor="start" font-family="Liberation Sans" >15</text>
<line x1="932.2" y1="497.5" x2="989.2" y2="497.5" stroke="#333" stroke-width="0.9" />
<line x1="969.5" y1="487.7" x2="969.5" y2="508.2" stroke="#333" stroke-width="0.9" />
<text x="965.7" y="505.2" font-size="9.5" fill="#333" text-anchor="end" font-family="Liberation Sans" >panele</text>
<text x="973.7" y="506.7" font-size="9.2" fill="#333" text-anchor="start" font-family="Liberation Sans" >3.4</text>
<text x="207.5" y="568" font-size="8.8" fill="#2a2a2a" text-anchor="end" font-family="Liberation Sans" textLength="40.7" lengthAdjust="spacingAndGlyphs" >ŁAZIENKA</text>
<text x="216" y="568.5" font-size="13" fill="#222" text-anchor="start" font-family="Liberation Sans" >7</text>
<line x1="173.5" y1="570.5" x2="230.5" y2="570.5" stroke="#333" stroke-width="0.9" />
<line x1="211.5" y1="560.7" x2="211.5" y2="581.2" stroke="#333" stroke-width="0.9" />
<text x="207" y="578.2" font-size="9.5" fill="#333" text-anchor="end" font-family="Liberation Sans" >gres</text>
<text x="215" y="579.7" font-size="9.2" fill="#333" text-anchor="start" font-family="Liberation Sans" >3.8</text>
<text x="1062.5" y="563" font-size="8.8" fill="#2a2a2a" text-anchor="end" font-family="Liberation Sans" textLength="42" lengthAdjust="spacingAndGlyphs" >ŁAZIENKA</text>
<text x="1071" y="563.5" font-size="13" fill="#222" text-anchor="start" font-family="Liberation Sans" >17</text>
<line x1="1028.5" y1="565.5" x2="1085.5" y2="565.5" stroke="#333" stroke-width="0.9" />
<line x1="1066.5" y1="555.7" x2="1066.5" y2="576.2" stroke="#333" stroke-width="0.9" />
<text x="1062" y="573.2" font-size="9.5" fill="#333" text-anchor="end" font-family="Liberation Sans" >gres</text>
<text x="1070" y="574.7" font-size="9.2" fill="#333" text-anchor="start" font-family="Liberation Sans" >3.6</text>
<text x="735.5" y="581" font-size="8.8" fill="#2a2a2a" text-anchor="end" font-family="Liberation Sans" textLength="45" lengthAdjust="spacingAndGlyphs" >KORYTARZ</text>
<text x="744" y="581.5" font-size="13" fill="#222" text-anchor="start" font-family="Liberation Sans" >1</text>
<line x1="701.5" y1="583.5" x2="758.5" y2="583.5" stroke="#333" stroke-width="0.9" />
<line x1="739.5" y1="573.7" x2="739.5" y2="594.2" stroke="#333" stroke-width="0.9" />
<text x="735" y="591.2" font-size="9.5" fill="#333" text-anchor="end" font-family="Liberation Sans" >gres</text>
<text x="743" y="592.7" font-size="9.2" fill="#333" text-anchor="start" font-family="Liberation Sans" >12.2</text>
<text x="392.2" y="667.5" font-size="8.8" fill="#2a2a2a" text-anchor="end" font-family="Liberation Sans" textLength="55.5" lengthAdjust="spacingAndGlyphs" >PRZEDPOKÓJ</text>
<text x="400.7" y="668.0" font-size="13" fill="#222" text-anchor="start" font-family="Liberation Sans" >2</text>
<line x1="358.2" y1="670.5" x2="415.2" y2="670.5" stroke="#333" stroke-width="0.9" />
<line x1="395.5" y1="660.2" x2="395.5" y2="680.7" stroke="#333" stroke-width="0.9" />
<text x="391.7" y="677.7" font-size="9.5" fill="#333" text-anchor="end" font-family="Liberation Sans" >panele</text>
<text x="399.7" y="679.2" font-size="9.2" fill="#333" text-anchor="start" font-family="Liberation Sans" >2.9</text>
<text x="482.5" y="705" font-size="8.8" fill="#2a2a2a" text-anchor="end" font-family="Liberation Sans" textLength="40.5" lengthAdjust="spacingAndGlyphs" >ŁAZIENKA</text>
<text x="491" y="705.5" font-size="13" fill="#222" text-anchor="start" font-family="Liberation Sans" >3</text>
<line x1="448.5" y1="707.5" x2="505.5" y2="707.5" stroke="#333" stroke-width="0.9" />
<line x1="486.5" y1="697.7" x2="486.5" y2="718.2" stroke="#333" stroke-width="0.9" />
<text x="482" y="715.2" font-size="9.5" fill="#333" text-anchor="end" font-family="Liberation Sans" >gres</text>
<text x="490" y="716.7" font-size="9.2" fill="#333" text-anchor="start" font-family="Liberation Sans" ></text>
<text x="776.0" y="705" font-size="8.8" fill="#2a2a2a" text-anchor="end" font-family="Liberation Sans" textLength="41" lengthAdjust="spacingAndGlyphs" >ŁAZIENKA</text>
<text x="784.5" y="705.5" font-size="13" fill="#222" text-anchor="start" font-family="Liberation Sans" >21</text>
<line x1="742.0" y1="707.5" x2="799.0" y2="707.5" stroke="#333" stroke-width="0.9" />
<line x1="779.5" y1="697.7" x2="779.5" y2="718.2" stroke="#333" stroke-width="0.9" />
<text x="775.5" y="715.2" font-size="9.5" fill="#333" text-anchor="end" font-family="Liberation Sans" >gres</text>
<text x="783.5" y="716.7" font-size="9.2" fill="#333" text-anchor="start" font-family="Liberation Sans" ></text>
<text x="913.5" y="678.7" font-size="8.8" fill="#2a2a2a" text-anchor="end" font-family="Liberation Sans" textLength="56" lengthAdjust="spacingAndGlyphs" >PRZEDPOKÓJ</text>
<text x="922" y="679.2" font-size="13" fill="#222" text-anchor="start" font-family="Liberation Sans" >18</text>
<line x1="879.5" y1="681.5" x2="936.5" y2="681.5" stroke="#333" stroke-width="0.9" />
<line x1="917.5" y1="671.4000000000001" x2="917.5" y2="691.9000000000001" stroke="#333" stroke-width="0.9" />
<text x="913" y="688.9000000000001" font-size="9.5" fill="#333" text-anchor="end" font-family="Liberation Sans" >panele</text>
<text x="921" y="690.4000000000001" font-size="9.2" fill="#333" text-anchor="start" font-family="Liberation Sans" >3.0</text>
<text x="240.2" y="702.5" font-size="8.8" fill="#2a2a2a" text-anchor="end" font-family="Liberation Sans" textLength="76.3" lengthAdjust="spacingAndGlyphs" >POKÓJ Z KUCHNIĄ</text>
<text x="248.7" y="703.0" font-size="13" fill="#222" text-anchor="start" font-family="Liberation Sans" >5</text>
<line x1="206.2" y1="705.5" x2="263.2" y2="705.5" stroke="#333" stroke-width="0.9" />
<line x1="243.5" y1="695.2" x2="243.5" y2="715.7" stroke="#333" stroke-width="0.9" />
<text x="239.7" y="712.7" font-size="9.5" fill="#333" text-anchor="end" font-family="Liberation Sans" >panele</text>
<text x="247.7" y="714.2" font-size="9.2" fill="#333" text-anchor="start" font-family="Liberation Sans" ></text>
<text x="1073.5" y="700" font-size="8.8" fill="#2a2a2a" text-anchor="end" font-family="Liberation Sans" textLength="76.8" lengthAdjust="spacingAndGlyphs" >POKÓJ Z KUCHNIĄ</text>
<text x="1082" y="700.5" font-size="13" fill="#222" text-anchor="start" font-family="Liberation Sans" >19</text>
<line x1="1039.5" y1="702.5" x2="1096.5" y2="702.5" stroke="#333" stroke-width="0.9" />
<line x1="1077.5" y1="692.7" x2="1077.5" y2="713.2" stroke="#333" stroke-width="0.9" />
<text x="1073" y="710.2" font-size="9.5" fill="#333" text-anchor="end" font-family="Liberation Sans" >panele</text>
<text x="1081" y="711.7" font-size="9.2" fill="#333" text-anchor="start" font-family="Liberation Sans" ></text>
<rect x="176" y="258.3" width="58" height="87" stroke="#555" fill="none" stroke-width="1.1" stroke-dasharray="4.5 2.5"/>
<text x="229" y="304.5" font-size="9.5" fill="#333" text-anchor="end" font-family="Liberation Sans" >okno do</text>
<text x="229" y="316" font-size="9.5" fill="#333" text-anchor="end" font-family="Liberation Sans" >dachu</text>
<text x="229" y="327.5" font-size="9.5" fill="#333" text-anchor="end" font-family="Liberation Sans" >płaskiego</text>
<text x="229" y="339" font-size="9.5" fill="#333" text-anchor="end" font-family="Liberation Serif" >100x150</text>
<rect x="256" y="258.3" width="58" height="87" stroke="#555" fill="none" stroke-width="1.1" stroke-dasharray="4.5 2.5"/>
<text x="309" y="304.5" font-size="9.5" fill="#333" text-anchor="end" font-family="Liberation Sans" >okno do</text>
<text x="309" y="316" font-size="9.5" fill="#333" text-anchor="end" font-family="Liberation Sans" >dachu</text>
<text x="309" y="327.5" font-size="9.5" fill="#333" text-anchor="end" font-family="Liberation Sans" >płaskiego</text>
<text x="309" y="339" font-size="9.5" fill="#333" text-anchor="end" font-family="Liberation Serif" >100x150</text>
<rect x="417" y="258.3" width="58" height="87" stroke="#555" fill="none" stroke-width="1.1" stroke-dasharray="4.5 2.5"/>
<text x="470" y="304.5" font-size="9.5" fill="#333" text-anchor="end" font-family="Liberation Sans" >okno do</text>
<text x="470" y="316" font-size="9.5" fill="#333" text-anchor="end" font-family="Liberation Sans" >dachu</text>
<text x="470" y="327.5" font-size="9.5" fill="#333" text-anchor="end" font-family="Liberation Sans" >płaskiego</text>
<text x="470" y="339" font-size="9.5" fill="#333" text-anchor="end" font-family="Liberation Serif" >100x150</text>
<rect x="497" y="258.3" width="58" height="87" stroke="#555" fill="none" stroke-width="1.1" stroke-dasharray="4.5 2.5"/>
<text x="550" y="304.5" font-size="9.5" fill="#333" text-anchor="end" font-family="Liberation Sans" >okno do</text>
<text x="550" y="316" font-size="9.5" fill="#333" text-anchor="end" font-family="Liberation Sans" >dachu</text>
<text x="550" y="327.5" font-size="9.5" fill="#333" text-anchor="end" font-family="Liberation Sans" >płaskiego</text>
<text x="550" y="339" font-size="9.5" fill="#333" text-anchor="end" font-family="Liberation Serif" >100x150</text>
<rect x="701" y="258.3" width="58" height="87" stroke="#555" fill="none" stroke-width="1.1" stroke-dasharray="4.5 2.5"/>
<text x="754" y="304.5" font-size="9.5" fill="#333" text-anchor="end" font-family="Liberation Sans" >okno do</text>
<text x="754" y="316" font-size="9.5" fill="#333" text-anchor="end" font-family="Liberation Sans" >dachu</text>
<text x="754" y="327.5" font-size="9.5" fill="#333" text-anchor="end" font-family="Liberation Sans" >płaskiego</text>
<text x="754" y="339" font-size="9.5" fill="#333" text-anchor="end" font-family="Liberation Serif" >100x150</text>
<rect x="780" y="258.3" width="58" height="87" stroke="#555" fill="none" stroke-width="1.1" stroke-dasharray="4.5 2.5"/>
<text x="833" y="304.5" font-size="9.5" fill="#333" text-anchor="end" font-family="Liberation Sans" >okno do</text>
<text x="833" y="316" font-size="9.5" fill="#333" text-anchor="end" font-family="Liberation Sans" >dachu</text>
<text x="833" y="327.5" font-size="9.5" fill="#333" text-anchor="end" font-family="Liberation Sans" >płaskiego</text>
<text x="833" y="339" font-size="9.5" fill="#333" text-anchor="end" font-family="Liberation Serif" >100x150</text>
<rect x="939.6" y="258.3" width="58" height="87" stroke="#555" fill="none" stroke-width="1.1" stroke-dasharray="4.5 2.5"/>
<text x="992.6" y="304.5" font-size="9.5" fill="#333" text-anchor="end" font-family="Liberation Sans" >okno do</text>
<text x="992.6" y="316" font-size="9.5" fill="#333" text-anchor="end" font-family="Liberation Sans" >dachu</text>
<text x="992.6" y="327.5" font-size="9.5" fill="#333" text-anchor="end" font-family="Liberation Sans" >płaskiego</text>
<text x="992.6" y="339" font-size="9.5" fill="#333" text-anchor="end" font-family="Liberation Serif" >100x150</text>
<rect x="1024.4" y="258.3" width="58" height="87" stroke="#555" fill="none" stroke-width="1.1" stroke-dasharray="4.5 2.5"/>
<text x="1077.4" y="304.5" font-size="9.5" fill="#333" text-anchor="end" font-family="Liberation Sans" >okno do</text>
<text x="1077.4" y="316" font-size="9.5" fill="#333" text-anchor="end" font-family="Liberation Sans" >dachu</text>
<text x="1077.4" y="327.5" font-size="9.5" fill="#333" text-anchor="end" font-family="Liberation Sans" >płaskiego</text>
<text x="1077.4" y="339" font-size="9.5" fill="#333" text-anchor="end" font-family="Liberation Serif" >100x150</text>
<rect x="331" y="275" width="17" height="51.7" stroke="#777" fill="#fff" stroke-width="0.9" />
<rect x="334" y="278" width="11" height="45.7" stroke="#333" fill="#fff" stroke-width="0.9" />
<path d="M334 278L345 284M345 278L334 284M334 284L345 290M345 284L334 290M334 290L345 296M345 290L334 296M334 296L345 302M345 296L334 302M334 302L345 308M345 302L334 308M334 308L345 314M345 308L334 314M334 314L345 320M345 314L334 320M334 320L345 326M345 320L334 326" stroke="#444" stroke-width="0.6" fill="none" />
<rect x="331.5" y="277" width="3" height="47.7" stroke="none" fill="#444" stroke-width="0" />
<rect x="361.5" y="275" width="17" height="51.7" stroke="#777" fill="#fff" stroke-width="0.9" />
<rect x="364.5" y="278" width="11" height="45.7" stroke="#333" fill="#fff" stroke-width="0.9" />
<path d="M364.5 278L375.5 284M375.5 278L364.5 284M364.5 284L375.5 290M375.5 284L364.5 290M364.5 290L375.5 296M375.5 290L364.5 296M364.5 296L375.5 302M375.5 296L364.5 302M364.5 302L375.5 308M375.5 302L364.5 308M364.5 308L375.5 314M375.5 308L364.5 314M364.5 314L375.5 320M375.5 314L364.5 320M364.5 320L375.5 326M375.5 320L364.5 326" stroke="#444" stroke-width="0.6" fill="none" />
<rect x="375.0" y="277" width="3" height="47.7" stroke="none" fill="#222" stroke-width="0" />
<rect x="877.5" y="275" width="17" height="51.7" stroke="#777" fill="#fff" stroke-width="0.9" />
<rect x="880.5" y="278" width="11" height="45.7" stroke="#333" fill="#fff" stroke-width="0.9" />
<path d="M880.5 278L891.5 284M891.5 278L880.5 284M880.5 284L891.5 290M891.5 284L880.5 290M880.5 290L891.5 296M891.5 290L880.5 296M880.5 296L891.5 302M891.5 296L880.5 302M880.5 302L891.5 308M891.5 302L880.5 308M880.5 308L891.5 314M891.5 308L880.5 314M880.5 314L891.5 320M891.5 314L880.5 320M880.5 320L891.5 326M891.5 320L880.5 326" stroke="#444" stroke-width="0.6" fill="none" />
<rect x="878.0" y="277" width="3" height="47.7" stroke="none" fill="#444" stroke-width="0" />
<rect x="909" y="275" width="17" height="51.7" stroke="#777" fill="#fff" stroke-width="0.9" />
<rect x="912" y="278" width="11" height="45.7" stroke="#333" fill="#fff" stroke-width="0.9" />
<path d="M912 278L923 284M923 278L912 284M912 284L923 290M923 284L912 290M912 290L923 296M923 290L912 296M912 296L923 302M923 296L912 302M912 302L923 308M923 302L912 308M912 308L923 314M923 308L912 314M912 314L923 320M923 314L912 320M912 320L923 326M923 320L912 326" stroke="#444" stroke-width="0.6" fill="none" />
<rect x="922.5" y="277" width="3" height="47.7" stroke="none" fill="#222" stroke-width="0" />
<circle cx="347" cy="329.5" r="1.1" stroke="#600" stroke-width="0.5" fill="#600"/>
<circle cx="347" cy="334" r="1.1" stroke="#600" stroke-width="0.5" fill="#600"/>
<circle cx="362.5" cy="329.5" r="1.1" stroke="#600" stroke-width="0.5" fill="#600"/>
<circle cx="362.5" cy="334" r="1.1" stroke="#600" stroke-width="0.5" fill="#600"/>
<circle cx="893.5" cy="329.5" r="1.1" stroke="#600" stroke-width="0.5" fill="#600"/>
<circle cx="893.5" cy="334" r="1.1" stroke="#600" stroke-width="0.5" fill="#600"/>
<circle cx="908.5" cy="329.5" r="1.1" stroke="#600" stroke-width="0.5" fill="#600"/>
<circle cx="908.5" cy="334" r="1.1" stroke="#600" stroke-width="0.5" fill="#600"/>
<text x="375.5" y="425.7" font-size="13.5" fill="#bd4452" text-anchor="start" font-family="Liberation Sans" transform="rotate(-90 375.5 425.7)" textLength="56.5" lengthAdjust="spacingAndGlyphs" >min.EI 30</text>
<text x="649" y="317.5" font-size="13.5" fill="#bd4452" text-anchor="start" font-family="Liberation Sans" transform="rotate(-90 649 317.5)" textLength="55" lengthAdjust="spacingAndGlyphs" >min.EI 30</text>
<text x="882" y="438" font-size="13.5" fill="#bd4452" text-anchor="start" font-family="Liberation Sans" transform="rotate(-90 882 438)" textLength="55.5" lengthAdjust="spacingAndGlyphs" >min.EI 30</text>
<text x="140" y="624" font-size="14.5" fill="#bd4452" text-anchor="start" font-family="Liberation Sans" textLength="57" lengthAdjust="spacingAndGlyphs" >min.EI 30</text>
<text x="1055" y="624" font-size="14.5" fill="#bd4452" text-anchor="start" font-family="Liberation Sans" textLength="57" lengthAdjust="spacingAndGlyphs" >min.EI 30</text>
<text x="410" y="578.5" font-size="14.5" fill="#bd4452" text-anchor="start" font-family="Liberation Sans" textLength="30" lengthAdjust="spacingAndGlyphs" >EI 30</text>
<text x="377.5" y="621" font-size="14.5" fill="#bd4452" text-anchor="start" font-family="Liberation Sans" textLength="30.5" lengthAdjust="spacingAndGlyphs" >EI 30</text>
<text x="815" y="577.5" font-size="14.5" fill="#bd4452" text-anchor="start" font-family="Liberation Sans" textLength="30" lengthAdjust="spacingAndGlyphs" >EI 30</text>
<text x="847.5" y="617.5" font-size="14.5" fill="#bd4452" text-anchor="start" font-family="Liberation Sans" textLength="30" lengthAdjust="spacingAndGlyphs" >EI 30</text>
<text x="384" y="605" font-size="14.5" fill="#bd4452" text-anchor="start" font-family="Liberation Sans" transform="rotate(-90 384 605)" textLength="30" lengthAdjust="spacingAndGlyphs" >EI 30</text>
<text x="885" y="602" font-size="14.5" fill="#bd4452" text-anchor="start" font-family="Liberation Sans" transform="rotate(-90 885 602)" textLength="30" lengthAdjust="spacingAndGlyphs" >EI 30</text>
<text x="659" y="545" font-size="14" fill="#bd4452" text-anchor="start" font-family="Liberation Sans" textLength="40" lengthAdjust="spacingAndGlyphs" >REI 60</text>
<text x="255" y="563.5" font-size="11.5" fill="#bd4452" text-anchor="middle" font-family="Liberation Sans" >80</text>
<line x1="243" y1="565.5" x2="267" y2="565.5" stroke="#bd4452" stroke-width="0.8" />
<text x="255" y="575.5" font-size="11.5" fill="#bd4452" text-anchor="middle" font-family="Liberation Sans" >200</text>
<text x="478.7" y="472.5" font-size="11.5" fill="#bd4452" text-anchor="middle" font-family="Liberation Sans" >80</text>
<line x1="466.7" y1="474.5" x2="490.7" y2="474.5" stroke="#bd4452" stroke-width="0.8" />
<text x="478.7" y="484.5" font-size="11.5" fill="#bd4452" text-anchor="middle" font-family="Liberation Sans" >200</text>
<text x="777.5" y="472.5" font-size="11.5" fill="#bd4452" text-anchor="middle" font-family="Liberation Sans" >80</text>
<line x1="765.5" y1="474.5" x2="789.5" y2="474.5" stroke="#bd4452" stroke-width="0.8" />
<text x="777.5" y="484.5" font-size="11.5" fill="#bd4452" text-anchor="middle" font-family="Liberation Sans" >200</text>
<text x="1006.6" y="563" font-size="11.5" fill="#bd4452" text-anchor="middle" font-family="Liberation Sans" >80</text>
<line x1="994.6" y1="565.5" x2="1018.6" y2="565.5" stroke="#bd4452" stroke-width="0.8" />
<text x="1006.6" y="575" font-size="11.5" fill="#bd4452" text-anchor="middle" font-family="Liberation Sans" >200</text>
<text x="897.5" y="581" font-size="11.5" fill="#bd4452" text-anchor="middle" font-family="Liberation Sans" >90</text>
<line x1="885.5" y1="583.5" x2="909.5" y2="583.5" stroke="#bd4452" stroke-width="0.8" />
<text x="897.5" y="593" font-size="11.5" fill="#bd4452" text-anchor="middle" font-family="Liberation Sans" >200</text>
<text x="425" y="554" font-size="11.5" fill="#bd4452" text-anchor="middle" font-family="Liberation Sans" transform="rotate(-90 425 554)" >90</text>
<line x1="426.5" y1="542" x2="426.5" y2="566" stroke="#bd4452" stroke-width="0.8" />
<text x="436.5" y="554" font-size="11.5" fill="#bd4452" text-anchor="middle" font-family="Liberation Sans" transform="rotate(-90 436.5 554)" >200</text>
<text x="390" y="636" font-size="11.5" fill="#bd4452" text-anchor="middle" font-family="Liberation Sans" transform="rotate(-90 390 636)" >90</text>
<line x1="391.5" y1="624" x2="391.5" y2="648" stroke="#bd4452" stroke-width="0.8" />
<text x="401.5" y="636" font-size="11.5" fill="#bd4452" text-anchor="middle" font-family="Liberation Sans" transform="rotate(-90 401.5 636)" >200</text>
<text x="358" y="586" font-size="11.5" fill="#bd4452" text-anchor="middle" font-family="Liberation Sans" >90</text>
<line x1="346" y1="588.5" x2="370" y2="588.5" stroke="#bd4452" stroke-width="0.8" />
<text x="358" y="598" font-size="11.5" fill="#bd4452" text-anchor="middle" font-family="Liberation Sans" >200</text>
<text x="830" y="554" font-size="11.5" fill="#bd4452" text-anchor="middle" font-family="Liberation Sans" transform="rotate(-90 830 554)" >90</text>
<line x1="831.5" y1="542" x2="831.5" y2="566" stroke="#bd4452" stroke-width="0.8" />
<text x="841.5" y="554" font-size="11.5" fill="#bd4452" text-anchor="middle" font-family="Liberation Sans" transform="rotate(-90 841.5 554)" >200</text>
<text x="861" y="632" font-size="11.5" fill="#bd4452" text-anchor="middle" font-family="Liberation Sans" transform="rotate(-90 861 632)" >90</text>
<line x1="862.5" y1="620" x2="862.5" y2="644" stroke="#bd4452" stroke-width="0.8" />
<text x="872.5" y="632" font-size="11.5" fill="#bd4452" text-anchor="middle" font-family="Liberation Sans" transform="rotate(-90 872.5 632)" >200</text>
<text x="662" y="558.5" font-size="9.5" fill="#b848c8" text-anchor="start" font-family="Liberation Sans" textLength="38" lengthAdjust="spacingAndGlyphs" >DRABINKA</text>
<line x1="662" y1="560.5" x2="700" y2="560.5" stroke="#b848c8" stroke-width="0.8" />
<line x1="643" y1="545" x2="662" y2="558" stroke="#b848c8" stroke-width="0.8" />
<text x="660" y="618.7" font-size="9.5" fill="#b848c8" text-anchor="start" font-family="Liberation Sans" textLength="91" lengthAdjust="spacingAndGlyphs" >BALUSTRADA  h=110cm</text>
<line x1="660" y1="620.5" x2="752" y2="620.5" stroke="#b848c8" stroke-width="0.8" />
<line x1="642.5" y1="629.5" x2="660" y2="620.5" stroke="#b848c8" stroke-width="0.8" />
<path d="M55.5 442.2V464.5H183.6M51 458H72M55.5 442.2L51.5 458" stroke="#a8305a" stroke-width="1.1" fill="none" />
<text x="66" y="452.5" font-size="10" fill="#d07090" text-anchor="middle" font-family="Liberation Sans" >A</text>
<path d="M1199.5 442.2V464.5H1057M1204 458H1183M1199.5 442.2L1203.5 458" stroke="#a8305a" stroke-width="1.1" fill="none" />
<text x="1189" y="452.5" font-size="10" fill="#d07090" text-anchor="middle" font-family="Liberation Sans" >A</text>
<path d="M461.4 98V82.6H483.8M468.6 99.5V78.5L483.8 82.6" stroke="#a8305a" stroke-width="1.1" fill="none" />
<text x="478" y="92.5" font-size="10" fill="#d07090" text-anchor="middle" font-family="Liberation Sans" transform="rotate(90 478 92.5)" >B</text>
<line x1="461.5" y1="98" x2="461.5" y2="708" stroke="#d06070" stroke-width="0.9" />
<path d="M567.5 604.4V577.7H587.6M574.8 595V573.9L587.6 577.7" stroke="#a8305a" stroke-width="1.1" fill="none" />
<text x="585" y="588" font-size="10" fill="#d07090" text-anchor="middle" font-family="Liberation Sans" transform="rotate(90 585 588)" >C</text>
<rect x="602.7" y="556" width="46.8" height="45" stroke="#888" fill="none" stroke-width="1.4" stroke-dasharray="4 3"/>
<text x="626" y="580.3" font-size="9.5" fill="#333" text-anchor="middle" font-family="Liberation Sans" >wyłaz</text>
<text x="626" y="592.3" font-size="9.5" fill="#333" text-anchor="middle" font-family="Liberation Sans" >80x80</text>
<text x="562.3" y="580" font-size="10.5" fill="#2a2a2a" text-anchor="middle" font-family="Liberation Sans" transform="rotate(-90 562.3 580)" >160</text>
<text x="590.2" y="578" font-size="10.5" fill="#2a2a2a" text-anchor="middle" font-family="Liberation Sans" transform="rotate(-90 590.2 578)" >80</text>
<line x1="570.5" y1="540" x2="570.5" y2="628" stroke="#333" stroke-width="1" />
<line x1="568.9" y1="557.6" x2="572.1" y2="554.4" stroke="#222" stroke-width="1" />
<line x1="568.9" y1="605.6" x2="572.1" y2="602.4" stroke="#222" stroke-width="1" />
<line x1="595.5" y1="556" x2="595.5" y2="601" stroke="#333" stroke-width="1" />
<path d="M606.5 607.4H752M606.5 607.4V623.5H629" stroke="#d07070" stroke-width="1" fill="none" stroke-dasharray="5 3"/>
<path d="M635 604L642 611M642 604L635 611M603 614L610 620M610 614L603 620" stroke="#d07070" stroke-width="0.9" fill="none" />
<rect x="660" y="598" width="9" height="10" stroke="#d07070" fill="none" stroke-width="0.9" />
<path d="M660 598L669 608M669 598L660 608" stroke="#d07070" stroke-width="0.8" fill="none" />
<path d="M131 184.3H355L358 632.3H131Z" stroke="#3a3ad4" stroke-width="5.6" fill="none" stroke-linejoin="miter"/>
<rect x="0" y="708" width="1280" height="120" stroke="none" fill="#fff" stroke-width="0" />
</svg>
<div id="title">
 
 <svg class="abs" style="left:10px;top:8px" width="12" height="10"><path d="M1 1.5H10M1 5H10M1 8.5H10" stroke="#333" stroke-width="1.2"/></svg>
 <svg class="abs" style="left:26px;top:6px;overflow:visible" width="19" height="13"><text x="0" y="9" font-size="9" fill="#555" font-family="Liberation Sans" textLength="19" lengthAdjust="spacingAndGlyphs">Menu</text></svg>
 <svg class="abs" style="left:61px;top:5px" width="14" height="13"><path d="M1.5 6.5L7 1.5L12.5 6.5M3 5.2V11.5H5.7V8H8.3V11.5H11V5.2" stroke="#444" stroke-width="1.1" fill="none" stroke-linejoin="round"/></svg>
 <div class="abs" style="left:81px;top:2px;width:138px;height:21px;background:#fff;border-radius:3px 3px 0 0"></div>
 <svg class="abs" style="left:88px;top:7px" width="13" height="12"><path d="M6.5 0.8L8.1 4.3L11.9 4.6L9 7.1L9.9 10.9L6.5 8.9L3.1 10.9L4 7.1L1.1 4.6L4.9 4.3Z" stroke="#222" stroke-width="1" fill="none" stroke-linejoin="round"/></svg>
 <svg class="abs" style="left:104.5px;top:5.5px;overflow:visible" width="91.5" height="15.5"><text x="0" y="11.5" font-size="11.5" fill="#222" font-family="Liberation Sans" textLength="91.5" lengthAdjust="spacingAndGlyphs">Kr Jadwigi 32_rzut c...</text></svg>
 <svg class="abs" style="left:206px;top:9px" width="8" height="8"><path d="M1 1L7 7M7 1L1 7" stroke="#555" stroke-width="1.2"/></svg>
 <div class="abs" style="left:224px;top:4px;width:50px;height:17px;border:1px solid #c8c8c8;border-radius:3px;background:#ececec"></div>
 <svg class="abs" style="left:229px;top:7px" width="10" height="10"><path d="M5 1V9M1 5H9" stroke="#333" stroke-width="1.3"/></svg>
 <svg class="abs" style="left:243px;top:6px;overflow:visible" width="25" height="14"><text x="0" y="10" font-size="10" fill="#333" font-family="Liberation Sans" textLength="25" lengthAdjust="spacingAndGlyphs">Utwórz</text></svg>
 <svg class="abs" style="left:1135px;top:7px" width="13" height="13"><circle cx="6.5" cy="6.5" r="5.5" stroke="#333" stroke-width="1.1" fill="none"/><path d="M4.8 5.2C4.8 3.2 8.2 3.2 8.2 5.2C8.2 6.4 6.5 6.5 6.5 7.8" stroke="#333" stroke-width="1.1" fill="none"/><circle cx="6.5" cy="9.6" r="0.7" fill="#333"/></svg>
 <svg class="abs" style="left:1156px;top:6px" width="14" height="14"><circle cx="7" cy="7" r="6" fill="#1fa8e0"/><path d="M7 1A6 6 0 0 1 13 7L7 7Z" fill="#2a9ad8"/></svg>
 <div class="abs" style="left:1192px;top:11px;width:10px;height:1px;background:#222"></div>
 <svg class="abs" style="left:1226px;top:6px" width="11" height="11"><rect x="1" y="3" width="7" height="7" stroke="#333" fill="none"/><path d="M3 3V1H10V8H8" stroke="#333" fill="none"/></svg>
 <div class="abs" style="left:1248px;top:0;width:32px;height:22px;background:#e81123"></div>
 <svg class="abs" style="left:1259px;top:6px" width="11" height="11"><path d="M1 1L10 10M10 1L1 10" stroke="#fff" stroke-width="1.2"/></svg>
</div>
<div id="toolbar">
 <svg class="abs" style="left:10px;top:9.1px;overflow:visible" width="84" height="14.5"><text x="0" y="10.5" font-size="10.5" fill="#6a6a6a" font-family="Liberation Sans" textLength="84" lengthAdjust="spacingAndGlyphs">Wszystkie narzędzia</text></svg>
 <svg class="abs" style="left:110px;top:9.1px;overflow:visible" width="26" height="14.5"><text x="0" y="10.5" font-size="10.5" fill="#6a6a6a" font-family="Liberation Sans" textLength="26" lengthAdjust="spacingAndGlyphs">Edytuj</text></svg>
 <svg class="abs" style="left:152px;top:9.1px;overflow:visible" width="41" height="14.5"><text x="0" y="10.5" font-size="10.5" fill="#6a6a6a" font-family="Liberation Sans" textLength="41" lengthAdjust="spacingAndGlyphs">Konwertuj</text></svg>
 <svg class="abs" style="left:209px;top:9.1px;overflow:visible" width="86" height="14.5"><text x="0" y="10.5" font-size="10.5" fill="#2a2a2a" font-family="Liberation Sans" textLength="86" lengthAdjust="spacingAndGlyphs">Podpis elektroniczny</text></svg>
 <svg class="abs" style="left:1046px;top:9.1px;overflow:visible" width="108" height="14.5"><text x="0" y="10.5" font-size="10.5" fill="#2a2a2a" font-family="Liberation Sans" textLength="108" lengthAdjust="spacingAndGlyphs">Znajdź tekst lub narzędzia</text></svg>
 <svg class="abs" style="left:1159px;top:10px" width="13" height="13"><circle cx="5.2" cy="5.2" r="4" stroke="#222" stroke-width="1.4" fill="none"/><path d="M8.2 8.2L12 12" stroke="#222" stroke-width="1.6"/></svg>
 <div class="abs" style="left:1184px;top:11px;width:1px;height:11px;background:#ddd"></div>
 <svg class="abs" style="left:1195px;top:10px" width="13" height="13"><path d="M1.5 1.5H9.5L11.5 3.5V11.5H1.5Z" stroke="#999" stroke-width="1.1" fill="none"/><path d="M3.5 1.5V5H8.5V1.5M3.5 11.5V7.5H9.5V11.5" stroke="#999" stroke-width="1" fill="none"/></svg>
 <svg class="abs" style="left:1222px;top:10px" width="15" height="13"><path d="M4 4V1H11V4" stroke="#333" stroke-width="1.1" fill="none"/><rect x="1" y="4" width="13" height="6" rx="1.5" stroke="#333" stroke-width="1.2" fill="none"/><rect x="4" y="7.5" width="7" height="4.5" stroke="#333" stroke-width="1.1" fill="#fff"/></svg>
</div>
<div class="abs" style="left:1237px;top:35px;width:42px;height:16px;background:#6f6f6f;border-radius:3px;color:#fff;font-size:10px;line-height:16px;text-align:center">Zamknij</div>
<div id="vscroll"><div class="abs" style="left:5px;top:103px;width:1.5px;height:212px;background:#888"></div></div>
<div id="rpanel">
 <svg class="abs" style="left:8px;top:10px" width="16" height="16"><circle cx="9" cy="6.5" r="4.8" stroke="#333" stroke-width="1.2" fill="none"/><path d="M7 5.5H11M7 7.5H11" stroke="#333" stroke-width="1"/><path d="M4.5 4.5A4.8 4.8 0 0 0 8 12.5" stroke="#333" stroke-width="1.2" fill="none"/></svg>
 <svg class="abs" style="left:9px;top:36px" width="16" height="16"><path d="M2 2H7.5V13L4.75 10.5L2 13Z" stroke="#333" stroke-width="1.2" fill="none" stroke-linejoin="round"/><path d="M9 4H12M9 6.5H12M9 9H12" stroke="#333" stroke-width="1"/></svg>
 <svg class="abs" style="left:9px;top:62px" width="16" height="16"><path d="M4 3.5V13.5H12V6.5L9 3.5Z" stroke="#333" stroke-width="1.2" fill="none"/><path d="M2 11V1.5H8" stroke="#333" stroke-width="1.2" fill="none"/></svg>
 <svg class="abs" style="left:9px;top:88px" width="16" height="16"><path d="M7.5 1.5L13 5L7.5 8.5L2 5Z" stroke="#333" stroke-width="1.2" fill="none" stroke-linejoin="round"/><path d="M2 8.5L7.5 12L13 8.5" stroke="#333" stroke-width="1.2" fill="none" stroke-linejoin="round"/></svg>
 <div class="abs" style="left:5px;top:475px;width:19px;height:19px;border:1px solid #c8c8c8;border-radius:3px;font-size:9px;line-height:17px;text-align:center;color:#333">1</div>
 <div class="abs" style="left:5px;top:503px;width:19px;font-size:9px;text-align:center;color:#444">1</div>
 <svg class="abs" style="left:9px;top:528px" width="14" height="8"><path d="M3 6L7 2L11 6" stroke="#aaa" stroke-width="1.2" fill="none"/></svg>
 <svg class="abs" style="left:9px;top:552px" width="14" height="8"><path d="M3 2L7 6L11 2" stroke="#aaa" stroke-width="1.2" fill="none"/></svg>
 <div class="abs" style="left:2px;top:567px;width:28px;height:1px;background:#e4e4e4"></div>
 <svg class="abs" style="left:10px;top:575px" width="12" height="12"><path d="M10 6A4 4 0 1 1 8.5 2.8" stroke="#333" stroke-width="1.3" fill="none"/><path d="M7 0.8L9.5 3L7 4.6" stroke="#333" stroke-width="1.2" fill="none"/></svg>
 <svg class="abs" style="left:9px;top:597px" width="14" height="14"><path d="M2 1.5H7.5L10 4V12H2Z" stroke="#333" stroke-width="1.2" fill="none"/><path d="M4 6.5H8M4 8.5H8" stroke="#333" stroke-width="0.8"/><path d="M12 10L12 13L9 13Z" fill="#333"/></svg>
 <svg class="abs" style="left:9px;top:621px" width="14" height="14"><circle cx="5.5" cy="5.5" r="4" stroke="#333" stroke-width="1.3" fill="none"/><path d="M8.5 8.5L12 12M3.5 5.5H7.5M5.5 3.5V7.5" stroke="#333" stroke-width="1.2"/></svg>
 <svg class="abs" style="left:9px;top:645px" width="14" height="14"><circle cx="5.5" cy="5.5" r="4" stroke="#333" stroke-width="1.3" fill="none"/><path d="M8.5 8.5L12 12M3.5 5.5H7.5" stroke="#333" stroke-width="1.2"/></svg>
</div>
<div id="corner"></div>
<div id="status">
 <div class="abs" style="left:0;top:0;width:92px;height:11px;background:#e4e4e4"></div>
 <div class="abs" style="left:14px;top:1px;font-size:8px;color:#444;white-space:nowrap">16,54 x 11,69 cale</div>
 <div class="abs" style="left:189px;top:4px;width:762px;height:1.5px;background:#888"></div>
</div>
<div id="lefttools">
 <div class="abs" style="left:3px;top:2px;width:20px;height:2px;background:#cfcfcf"></div>
 <div class="abs" style="left:2px;top:9px;width:21px;height:21px;background:#2f7fe6;border-radius:3px"></div>
 <svg class="abs" style="left:6px;top:13px" width="13" height="13"><path d="M2 1V10L4.5 7.8L6.3 11.5L7.8 10.8L6 7.2H9.3Z" fill="#fff" stroke="#fff" stroke-width="0.5"/><path d="M12 10V12H10Z" fill="#fff"/></svg>
 <svg class="abs" style="left:5px;top:42px" width="16" height="16"><circle cx="7" cy="7" r="4.8" stroke="#555" stroke-width="1.1" fill="none"/><path d="M5 6H9M5 8H8" stroke="#555" stroke-width="0.9"/><path d="M14 12V14H12Z" fill="#444"/></svg>
 <svg class="abs" style="left:5px;top:68px" width="16" height="16"><path d="M3 11L10 4L12 6L5 13H3Z" stroke="#555" stroke-width="1.1" fill="none"/><path d="M2 14H8" stroke="#777" stroke-width="1"/><path d="M14 12V14H12Z" fill="#444"/></svg>
 <svg class="abs" style="left:5px;top:95px" width="16" height="16"><path d="M8 9C4 9 2 7.5 2 5.5C2 3.5 4.5 2 7 2C10 2 12 3.5 12 5.5C12 7.5 10 8.5 8 9C6 9.5 5 12 7 13" stroke="#555" stroke-width="1.1" fill="none"/><path d="M14 12V14H12Z" fill="#444"/></svg>
 <svg class="abs" style="left:4px;top:122px" width="18" height="16"><rect x="1.5" y="1.5" width="12" height="12" stroke="#333" stroke-width="1.2" stroke-dasharray="2 1.2" fill="none"/><text x="7.5" y="11.5" font-size="10" text-anchor="middle" font-family="Liberation Sans" fill="#222">A</text><path d="M17 13V15.5H14.5Z" fill="#444"/></svg>
 <svg class="abs" style="left:4px;top:146px" width="18" height="16"><path d="M2 12C2 8 5 4 8 3L11 6C10 9 6 12 2 12Z" stroke="#333" stroke-width="1.2" fill="none"/><path d="M2 12L6 8M8 13H13" stroke="#333" stroke-width="1.1"/><path d="M17 13V15.5H14.5Z" fill="#444"/></svg>
</div>
<svg class="abs" style="left:0;top:0;z-index:50;pointer-events:none" width="1280" height="828">
<rect x="10" y="1.5" width="200" height="183.5" fill="#fff" fill-opacity="0.38"/>
</svg>
<svg class="abs" style="left:0;top:0;z-index:51;pointer-events:none;mix-blend-mode:multiply" width="1280" height="828">
<g stroke="#a2a2a2" stroke-width="6.2" fill="none" stroke-linejoin="miter" stroke-linecap="butt">
<path d="M32.8 135L41 70.5L58.6 122L89.8 70.5L86.8 135"/>
<path d="M130.8 68.5L123.5 115C121.5 129 114 134 107.5 134C100 134 96 128 95 120"/>
<path d="M137.3 135L145 71L162.5 122L195.2 70.5L187.7 135"/>
</g>
<text x="29.6" y="165.8" font-size="27" fill="#a4a4a4" font-family="Liberation Sans" textLength="158" lengthAdjust="spacingAndGlyphs" stroke="#fff" stroke-width="0.5" stroke-opacity="0.6">nieruchomości</text>
<g stroke="#9fd48c" fill="none" stroke-linecap="butt">
<path d="M12.8 183.5V63.5" stroke-width="4.6"/>
<path d="M11 64.5L113 12.5" stroke-width="3.8"/>
<path d="M10 183.5H210" stroke-width="4"/>
</g>
</svg>

</body></html>
